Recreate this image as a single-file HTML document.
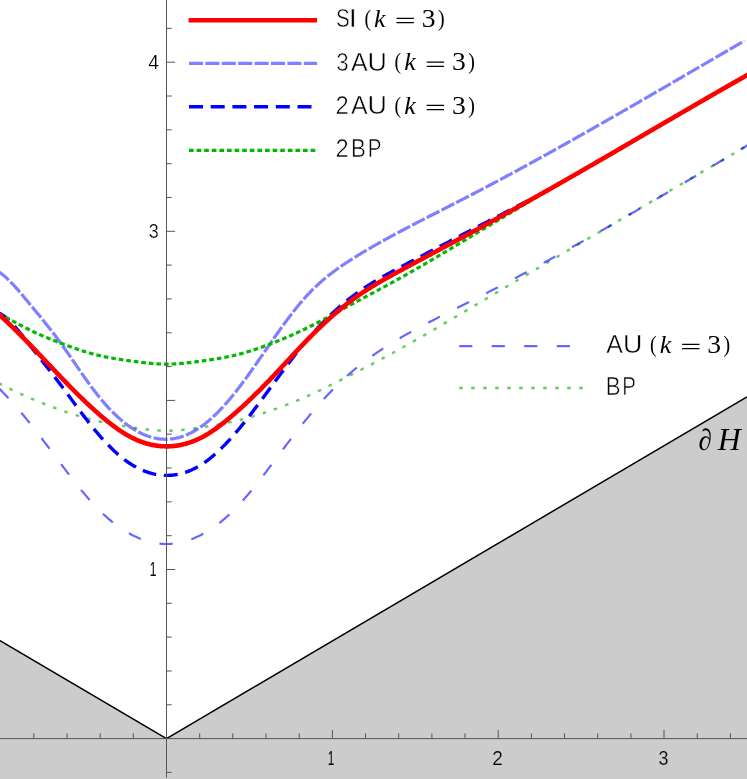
<!DOCTYPE html>
<html><head><meta charset="utf-8"><title>chart</title>
<style>
html,body{margin:0;padding:0;background:#fff;}
body{width:747px;height:779px;overflow:hidden;font-family:"Liberation Sans",sans-serif;}
svg{display:block;}
</style></head><body>
<svg width="747" height="779" viewBox="0 0 747 779">
<polygon points="0,640.6 166.5,738.6 747,396.9 747,779 0,779" fill="#cccccc"/>
<polyline points="0,640.6 166.5,738.6 747,396.9" fill="none" stroke="#000" stroke-width="1.5" stroke-linejoin="miter"/>
<path d="M-3.5,382.2 L-2.5,382.7 L-1.5,383.2 L-0.5,383.7 L0.5,384.2 L1.5,384.7 L2.5,385.2 L3.5,385.7 L4.5,386.2 L5.5,386.7 L6.5,387.2 L7.5,387.7 L8.5,388.1 L9.5,388.6 L10.5,389.1 L11.5,389.6 L12.5,390.1 L13.5,390.5 L14.5,391.0 L15.5,391.5 L16.5,392.0 L17.5,392.4 L18.5,392.9 L19.5,393.4 L20.5,393.8 L21.5,394.3 L22.5,394.7 L23.5,395.2 L24.5,395.6 L25.5,396.1 L26.5,396.5 L27.5,397.0 L28.5,397.4 L29.5,397.8 L30.5,398.3 L31.5,398.7 L32.5,399.1 L33.5,399.5 L34.5,400.0 L35.5,400.4 L36.5,400.8 L37.5,401.2 L38.5,401.6 L39.5,402.0 L40.5,402.4 L41.5,402.8 L42.5,403.2 L43.5,403.6 L44.5,404.0 L45.5,404.4 L46.5,404.8 L47.5,405.2 L48.5,405.6 L49.5,406.0 L50.5,406.3 L51.5,406.7 L52.5,407.1 L53.5,407.5 L54.5,407.8 L55.5,408.2 L56.5,408.6 L57.5,408.9 L58.5,409.3 L59.5,409.6 L60.5,410.0 L61.5,410.3 L62.5,410.7 L63.5,411.0 L64.5,411.4 L65.5,411.7 L66.5,412.1 L67.5,412.4 L68.5,412.7 L69.5,413.1 L70.5,413.4 L71.5,413.7 L72.5,414.0 L73.5,414.3 L74.5,414.7 L75.5,415.0 L76.5,415.3 L77.5,415.6 L78.5,415.9 L79.5,416.2 L80.5,416.5 L81.5,416.8 L82.5,417.1 L83.5,417.4 L84.5,417.7 L85.5,417.9 L86.5,418.2 L87.5,418.5 L88.5,418.8 L89.5,419.0 L90.5,419.3 L91.5,419.5 L92.5,419.8 L93.5,420.1 L94.5,420.3 L95.5,420.5 L96.5,420.8 L97.5,421.0 L98.5,421.3 L99.5,421.5 L100.5,421.7 L101.5,421.9 L102.5,422.1 L103.5,422.4 L104.5,422.6 L105.5,422.8 L106.5,423.0 L107.5,423.2 L108.5,423.4 L109.5,423.6 L110.5,423.8 L111.5,424.0 L112.5,424.1 L113.5,424.3 L114.5,424.5 L115.5,424.7 L116.5,424.9 L117.5,425.0 L118.5,425.2 L119.5,425.4 L120.5,425.6 L121.5,425.7 L122.5,425.9 L123.5,426.1 L124.5,426.2 L125.5,426.4 L126.5,426.5 L127.5,426.7 L128.5,426.9 L129.5,427.0 L130.5,427.2 L131.5,427.3 L132.5,427.5 L133.5,427.6 L134.5,427.8 L135.5,427.9 L136.5,428.1 L137.5,428.2 L138.5,428.4 L139.5,428.5 L140.5,428.6 L141.5,428.8 L142.5,428.9 L143.5,429.0 L144.5,429.2 L145.5,429.3 L146.5,429.4 L147.5,429.5 L148.5,429.6 L149.5,429.7 L150.5,429.9 L151.5,430.0 L152.5,430.0 L153.5,430.1 L154.5,430.2 L155.5,430.3 L156.5,430.4 L157.5,430.4 L158.5,430.5 L159.5,430.5 L160.5,430.6 L161.5,430.6 L162.5,430.7 L163.5,430.7 L164.5,430.7 L165.5,430.7 L166.5,430.7 L167.5,430.7 L168.5,430.7 L169.5,430.7 L170.5,430.7 L171.5,430.6 L172.5,430.6 L173.5,430.5 L174.5,430.5 L175.5,430.4 L176.5,430.4 L177.5,430.3 L178.5,430.2 L179.5,430.1 L180.5,430.0 L181.5,430.0 L182.5,429.9 L183.5,429.7 L184.5,429.6 L185.5,429.5 L186.5,429.4 L187.5,429.3 L188.5,429.2 L189.5,429.0 L190.5,428.9 L191.5,428.8 L192.5,428.6 L193.5,428.5 L194.5,428.4 L195.5,428.2 L196.5,428.1 L197.5,427.9 L198.5,427.8 L199.5,427.6 L200.5,427.5 L201.5,427.3 L202.5,427.2 L203.5,427.0 L204.5,426.9 L205.5,426.7 L206.5,426.5 L207.5,426.4 L208.5,426.2 L209.5,426.1 L210.5,425.9 L211.5,425.7 L212.5,425.6 L213.5,425.4 L214.5,425.2 L215.5,425.0 L216.5,424.9 L217.5,424.7 L218.5,424.5 L219.5,424.3 L220.5,424.1 L221.5,424.0 L222.5,423.8 L223.5,423.6 L224.5,423.4 L225.5,423.2 L226.5,423.0 L227.5,422.8 L228.5,422.6 L229.5,422.4 L230.5,422.1 L231.5,421.9 L232.5,421.7 L233.5,421.5 L234.5,421.3 L235.5,421.0 L236.5,420.8 L237.5,420.5 L238.5,420.3 L239.5,420.1 L240.5,419.8 L241.5,419.5 L242.5,419.3 L243.5,419.0 L244.5,418.8 L245.5,418.5 L246.5,418.2 L247.5,417.9 L248.5,417.7 L249.5,417.4 L250.5,417.1 L251.5,416.8 L252.5,416.5 L253.5,416.2 L254.5,415.9 L255.5,415.6 L256.5,415.3 L257.5,415.0 L258.5,414.7 L259.5,414.3 L260.5,414.0 L261.5,413.7 L262.5,413.4 L263.5,413.1 L264.5,412.7 L265.5,412.4 L266.5,412.1 L267.5,411.7 L268.5,411.4 L269.5,411.0 L270.5,410.7 L271.5,410.3 L272.5,410.0 L273.5,409.6 L274.5,409.3 L275.5,408.9 L276.5,408.6 L277.5,408.2 L278.5,407.8 L279.5,407.5 L280.5,407.1 L281.5,406.7 L282.5,406.3 L283.5,406.0 L284.5,405.6 L285.5,405.2 L286.5,404.8 L287.5,404.4 L288.5,404.0 L289.5,403.6 L290.5,403.2 L291.5,402.8 L292.5,402.4 L293.5,402.0 L294.5,401.6 L295.5,401.2 L296.5,400.8 L297.5,400.4 L298.5,400.0 L299.5,399.5 L300.5,399.1 L301.5,398.7 L302.5,398.3 L303.5,397.8 L304.5,397.4 L305.5,397.0 L306.5,396.5 L307.5,396.1 L308.5,395.6 L309.5,395.2 L310.5,394.7 L311.5,394.3 L312.5,393.8 L313.5,393.4 L314.5,392.9 L315.5,392.4 L316.5,392.0 L317.5,391.5 L318.5,391.0 L319.5,390.5 L320.5,390.1 L321.5,389.6 L322.5,389.1 L323.5,388.6 L324.5,388.1 L325.5,387.7 L326.5,387.2 L327.5,386.7 L328.5,386.2 L329.5,385.7 L330.5,385.2 L331.5,384.7 L332.5,384.2 L333.5,383.7 L334.5,383.2 L335.5,382.7 L336.5,382.2 L337.5,381.7 L338.5,381.2 L339.5,380.7 L340.5,380.2 L341.5,379.7 L342.5,379.2 L343.5,378.7 L344.5,378.2 L345.5,377.7 L346.5,377.2 L347.5,376.6 L348.5,376.1 L349.5,375.6 L350.5,375.1 L351.5,374.6 L352.5,374.1 L353.5,373.6 L354.5,373.1 L355.5,372.6 L356.5,372.0 L357.5,371.5 L358.5,371.0 L359.5,370.5 L360.5,370.0 L361.5,369.5 L362.5,369.0 L363.5,368.4 L364.5,367.9 L365.5,367.4 L366.5,366.9 L367.5,366.4 L368.5,365.8 L369.5,365.3 L370.5,364.8 L371.5,364.3 L372.5,363.8 L373.5,363.2 L374.5,362.7 L375.5,362.2 L376.5,361.7 L377.5,361.1 L378.5,360.6 L379.5,360.1 L380.5,359.5 L381.5,359.0 L382.5,358.5 L383.5,357.9 L384.5,357.4 L385.5,356.9 L386.5,356.3 L387.5,355.8 L388.5,355.2 L389.5,354.7 L390.5,354.2 L391.5,353.6 L392.5,353.1 L393.5,352.5 L394.5,352.0 L395.5,351.4 L396.5,350.9 L397.5,350.3 L398.5,349.8 L399.5,349.2 L400.5,348.7 L401.5,348.1 L402.5,347.6 L403.5,347.0 L404.5,346.5 L405.5,345.9 L406.5,345.3 L407.5,344.8 L408.5,344.2 L409.5,343.6 L410.5,343.1 L411.5,342.5 L412.5,342.0 L413.5,341.4 L414.5,340.8 L415.5,340.2 L416.5,339.7 L417.5,339.1 L418.5,338.5 L419.5,338.0 L420.5,337.4 L421.5,336.8 L422.5,336.2 L423.5,335.7 L424.5,335.1 L425.5,334.5 L426.5,333.9 L427.5,333.3 L428.5,332.8 L429.5,332.2 L430.5,331.6 L431.5,331.0 L432.5,330.4 L433.5,329.9 L434.5,329.3 L435.5,328.7 L436.5,328.1 L437.5,327.5 L438.5,326.9 L439.5,326.3 L440.5,325.8 L441.5,325.2 L442.5,324.6 L443.5,324.0 L444.5,323.4 L445.5,322.8 L446.5,322.2 L447.5,321.6 L448.5,321.0 L449.5,320.5 L450.5,319.9 L451.5,319.3 L452.5,318.7 L453.5,318.1 L454.5,317.5 L455.5,316.9 L456.5,316.3 L457.5,315.7 L458.5,315.1 L459.5,314.5 L460.5,313.9 L461.5,313.4 L462.5,312.8 L463.5,312.2 L464.5,311.6 L465.5,311.0 L466.5,310.4 L467.5,309.8 L468.5,309.2 L469.5,308.6 L470.5,308.0 L471.5,307.4 L472.5,306.8 L473.5,306.2 L474.5,305.7 L475.5,305.1 L476.5,304.5 L477.5,303.9 L478.5,303.3 L479.5,302.7 L480.5,302.1 L481.5,301.5 L482.5,300.9 L483.5,300.3 L484.5,299.7 L485.5,299.1 L486.5,298.6 L487.5,298.0 L488.5,297.4 L489.5,296.8 L490.5,296.2 L491.5,295.6 L492.5,295.0 L493.5,294.4 L494.5,293.8 L495.5,293.2 L496.5,292.6 L497.5,292.0 L498.5,291.5 L499.5,290.9 L500.5,290.3 L501.5,289.7 L502.5,289.1 L503.5,288.5 L504.5,287.9 L505.5,287.3 L506.5,286.7 L507.5,286.1 L508.5,285.5 L509.5,285.0 L510.5,284.4 L511.5,283.8 L512.5,283.2 L513.5,282.6 L514.5,282.0 L515.5,281.4 L516.5,280.8 L517.5,280.2 L518.5,279.6 L519.5,279.0 L520.5,278.5 L521.5,277.9 L522.5,277.3 L523.5,276.7 L524.5,276.1 L525.5,275.5 L526.5,274.9 L527.5,274.3 L528.5,273.7 L529.5,273.1 L530.5,272.6 L531.5,272.0 L532.5,271.4 L533.5,270.8 L534.5,270.2 L535.5,269.6 L536.5,269.0 L537.5,268.4 L538.5,267.8 L539.5,267.2 L540.5,266.7 L541.5,266.1 L542.5,265.5 L543.5,264.9 L544.5,264.3 L545.5,263.7 L546.5,263.1 L547.5,262.5 L548.5,261.9 L549.5,261.3 L550.5,260.8 L551.5,260.2 L552.5,259.6 L553.5,259.0 L554.5,258.4 L555.5,257.8 L556.5,257.2 L557.5,256.6 L558.5,256.0 L559.5,255.5 L560.5,254.9 L561.5,254.3 L562.5,253.7 L563.5,253.1 L564.5,252.5 L565.5,251.9 L566.5,251.3 L567.5,250.7 L568.5,250.2 L569.5,249.6 L570.5,249.0 L571.5,248.4 L572.5,247.8 L573.5,247.2 L574.5,246.6 L575.5,246.0 L576.5,245.5 L577.5,244.9 L578.5,244.3 L579.5,243.7 L580.5,243.1 L581.5,242.5 L582.5,241.9 L583.5,241.3 L584.5,240.8 L585.5,240.2 L586.5,239.6 L587.5,239.0 L588.5,238.4 L589.5,237.8 L590.5,237.2 L591.5,236.6 L592.5,236.0 L593.5,235.5 L594.5,234.9 L595.5,234.3 L596.5,233.7 L597.5,233.1 L598.5,232.5 L599.5,231.9 L600.5,231.4 L601.5,230.8 L602.5,230.2 L603.5,229.6 L604.5,229.0 L605.5,228.4 L606.5,227.8 L607.5,227.2 L608.5,226.7 L609.5,226.1 L610.5,225.5 L611.5,224.9 L612.5,224.3 L613.5,223.7 L614.5,223.1 L615.5,222.6 L616.5,222.0 L617.5,221.4 L618.5,220.8 L619.5,220.2 L620.5,219.6 L621.5,219.0 L622.5,218.4 L623.5,217.9 L624.5,217.3 L625.5,216.7 L626.5,216.1 L627.5,215.5 L628.5,214.9 L629.5,214.3 L630.5,213.8 L631.5,213.2 L632.5,212.6 L633.5,212.0 L634.5,211.4 L635.5,210.8 L636.5,210.3 L637.5,209.7 L638.5,209.1 L639.5,208.5 L640.5,207.9 L641.5,207.3 L642.5,206.7 L643.5,206.2 L644.5,205.6 L645.5,205.0 L646.5,204.4 L647.5,203.8 L648.5,203.2 L649.5,202.6 L650.5,202.1 L651.5,201.5 L652.5,200.9 L653.5,200.3 L654.5,199.7 L655.5,199.1 L656.5,198.6 L657.5,198.0 L658.5,197.4 L659.5,196.8 L660.5,196.2 L661.5,195.6 L662.5,195.1 L663.5,194.5 L664.5,193.9 L665.5,193.3 L666.5,192.7 L667.5,192.1 L668.5,191.5 L669.5,191.0 L670.5,190.4 L671.5,189.8 L672.5,189.2 L673.5,188.6 L674.5,188.0 L675.5,187.5 L676.5,186.9 L677.5,186.3 L678.5,185.7 L679.5,185.1 L680.5,184.5 L681.5,184.0 L682.5,183.4 L683.5,182.8 L684.5,182.2 L685.5,181.6 L686.5,181.0 L687.5,180.5 L688.5,179.9 L689.5,179.3 L690.5,178.7 L691.5,178.1 L692.5,177.6 L693.5,177.0 L694.5,176.4 L695.5,175.8 L696.5,175.2 L697.5,174.6 L698.5,174.1 L699.5,173.5 L700.5,172.9 L701.5,172.3 L702.5,171.7 L703.5,171.2 L704.5,170.6 L705.5,170.0 L706.5,169.4 L707.5,168.8 L708.5,168.2 L709.5,167.7 L710.5,167.1 L711.5,166.5 L712.5,165.9 L713.5,165.3 L714.5,164.8 L715.5,164.2 L716.5,163.6 L717.5,163.0 L718.5,162.4 L719.5,161.8 L720.5,161.3 L721.5,160.7 L722.5,160.1 L723.5,159.5 L724.5,158.9 L725.5,158.4 L726.5,157.8 L727.5,157.2 L728.5,156.6 L729.5,156.0 L730.5,155.5 L731.5,154.9 L732.5,154.3 L733.5,153.7 L734.5,153.1 L735.5,152.6 L736.5,152.0 L737.5,151.4 L738.5,150.8 L739.5,150.2 L740.5,149.7 L741.5,149.1 L742.5,148.5 L743.5,147.9 L744.5,147.3 L745.5,146.8 L746.5,146.2 L747.5,145.6 L748.5,145.0 L749.5,144.4 L750.5,143.9 L751.5,143.3 L752.5,142.7 L753.5,142.1 L754.5,141.6 L755.5,141.0" fill="none" stroke="rgba(0,170,0,0.6)" stroke-width="2.5" stroke-dasharray="3.573 8.338" stroke-dashoffset="9.430"/>
<path d="M-3.5,385.9 L-2.5,386.9 L-1.5,387.9 L-0.5,388.9 L0.5,389.9 L1.5,390.9 L2.5,391.9 L3.5,393.0 L4.5,394.0 L5.5,395.1 L6.5,396.1 L7.5,397.2 L8.5,398.3 L9.5,399.4 L10.5,400.5 L11.5,401.6 L12.5,402.7 L13.5,403.8 L14.5,404.9 L15.5,406.1 L16.5,407.2 L17.5,408.4 L18.5,409.5 L19.5,410.7 L20.5,411.9 L21.5,413.1 L22.5,414.2 L23.5,415.4 L24.5,416.7 L25.5,417.9 L26.5,419.1 L27.5,420.3 L28.5,421.5 L29.5,422.8 L30.5,424.0 L31.5,425.3 L32.5,426.6 L33.5,427.8 L34.5,429.1 L35.5,430.4 L36.5,431.7 L37.5,432.9 L38.5,434.2 L39.5,435.5 L40.5,436.8 L41.5,438.1 L42.5,439.5 L43.5,440.8 L44.5,442.1 L45.5,443.4 L46.5,444.7 L47.5,446.0 L48.5,447.4 L49.5,448.7 L50.5,450.0 L51.5,451.3 L52.5,452.7 L53.5,454.0 L54.5,455.3 L55.5,456.7 L56.5,458.0 L57.5,459.3 L58.5,460.7 L59.5,462.0 L60.5,463.3 L61.5,464.7 L62.5,466.0 L63.5,467.3 L64.5,468.6 L65.5,469.9 L66.5,471.3 L67.5,472.6 L68.5,473.9 L69.5,475.2 L70.5,476.5 L71.5,477.8 L72.5,479.1 L73.5,480.3 L74.5,481.6 L75.5,482.9 L76.5,484.2 L77.5,485.4 L78.5,486.7 L79.5,487.9 L80.5,489.1 L81.5,490.4 L82.5,491.6 L83.5,492.8 L84.5,494.0 L85.5,495.1 L86.5,496.3 L87.5,497.5 L88.5,498.6 L89.5,499.8 L90.5,500.9 L91.5,502.0 L92.5,503.1 L93.5,504.2 L94.5,505.3 L95.5,506.3 L96.5,507.4 L97.5,508.4 L98.5,509.4 L99.5,510.4 L100.5,511.4 L101.5,512.4 L102.5,513.3 L103.5,514.3 L104.5,515.2 L105.5,516.1 L106.5,517.0 L107.5,517.9 L108.5,518.8 L109.5,519.6 L110.5,520.4 L111.5,521.3 L112.5,522.1 L113.5,522.9 L114.5,523.6 L115.5,524.4 L116.5,525.2 L117.5,525.9 L118.5,526.6 L119.5,527.3 L120.5,528.0 L121.5,528.7 L122.5,529.3 L123.5,530.0 L124.5,530.6 L125.5,531.2 L126.5,531.9 L127.5,532.4 L128.5,533.0 L129.5,533.6 L130.5,534.1 L131.5,534.7 L132.5,535.2 L133.5,535.7 L134.5,536.2 L135.5,536.6 L136.5,537.1 L137.5,537.6 L138.5,538.0 L139.5,538.4 L140.5,538.8 L141.5,539.2 L142.5,539.6 L143.5,539.9 L144.5,540.3 L145.5,540.6 L146.5,540.9 L147.5,541.2 L148.5,541.5 L149.5,541.8 L150.5,542.0 L151.5,542.3 L152.5,542.5 L153.5,542.7 L154.5,542.9 L155.5,543.1 L156.5,543.2 L157.5,543.4 L158.5,543.5 L159.5,543.6 L160.5,543.7 L161.5,543.8 L162.5,543.9 L163.5,543.9 L164.5,544.0 L165.5,544.0 L166.5,544.0 L167.5,544.0 L168.5,544.0 L169.5,543.9 L170.5,543.9 L171.5,543.8 L172.5,543.7 L173.5,543.6 L174.5,543.5 L175.5,543.4 L176.5,543.2 L177.5,543.1 L178.5,542.9 L179.5,542.7 L180.5,542.5 L181.5,542.3 L182.5,542.0 L183.5,541.8 L184.5,541.5 L185.5,541.2 L186.5,540.9 L187.5,540.6 L188.5,540.3 L189.5,539.9 L190.5,539.6 L191.5,539.2 L192.5,538.8 L193.5,538.4 L194.5,538.0 L195.5,537.6 L196.5,537.1 L197.5,536.6 L198.5,536.2 L199.5,535.7 L200.5,535.2 L201.5,534.7 L202.5,534.1 L203.5,533.6 L204.5,533.0 L205.5,532.4 L206.5,531.9 L207.5,531.2 L208.5,530.6 L209.5,530.0 L210.5,529.3 L211.5,528.7 L212.5,528.0 L213.5,527.3 L214.5,526.6 L215.5,525.9 L216.5,525.2 L217.5,524.4 L218.5,523.6 L219.5,522.9 L220.5,522.1 L221.5,521.3 L222.5,520.4 L223.5,519.6 L224.5,518.8 L225.5,517.9 L226.5,517.0 L227.5,516.1 L228.5,515.2 L229.5,514.3 L230.5,513.3 L231.5,512.4 L232.5,511.4 L233.5,510.4 L234.5,509.4 L235.5,508.4 L236.5,507.4 L237.5,506.3 L238.5,505.3 L239.5,504.2 L240.5,503.1 L241.5,502.0 L242.5,500.9 L243.5,499.8 L244.5,498.6 L245.5,497.5 L246.5,496.3 L247.5,495.1 L248.5,494.0 L249.5,492.8 L250.5,491.6 L251.5,490.4 L252.5,489.1 L253.5,487.9 L254.5,486.7 L255.5,485.4 L256.5,484.2 L257.5,482.9 L258.5,481.6 L259.5,480.3 L260.5,479.1 L261.5,477.8 L262.5,476.5 L263.5,475.2 L264.5,473.9 L265.5,472.6 L266.5,471.3 L267.5,469.9 L268.5,468.6 L269.5,467.3 L270.5,466.0 L271.5,464.7 L272.5,463.3 L273.5,462.0 L274.5,460.7 L275.5,459.3 L276.5,458.0 L277.5,456.7 L278.5,455.3 L279.5,454.0 L280.5,452.7 L281.5,451.3 L282.5,450.0 L283.5,448.7 L284.5,447.4 L285.5,446.0 L286.5,444.7 L287.5,443.4 L288.5,442.1 L289.5,440.8 L290.5,439.5 L291.5,438.1 L292.5,436.8 L293.5,435.5 L294.5,434.2 L295.5,432.9 L296.5,431.7 L297.5,430.4 L298.5,429.1 L299.5,427.8 L300.5,426.6 L301.5,425.3 L302.5,424.0 L303.5,422.8 L304.5,421.5 L305.5,420.3 L306.5,419.1 L307.5,417.9 L308.5,416.7 L309.5,415.4 L310.5,414.2 L311.5,413.1 L312.5,411.9 L313.5,410.7 L314.5,409.5 L315.5,408.4 L316.5,407.2 L317.5,406.1 L318.5,404.9 L319.5,403.8 L320.5,402.7 L321.5,401.6 L322.5,400.5 L323.5,399.4 L324.5,398.3 L325.5,397.2 L326.5,396.1 L327.5,395.1 L328.5,394.0 L329.5,393.0 L330.5,391.9 L331.5,390.9 L332.5,389.9 L333.5,388.9 L334.5,387.9 L335.5,386.9 L336.5,385.9 L337.5,384.9 L338.5,383.9 L339.5,382.9 L340.5,382.0 L341.5,381.0 L342.5,380.1 L343.5,379.2 L344.5,378.3 L345.5,377.3 L346.5,376.4 L347.5,375.5 L348.5,374.7 L349.5,373.8 L350.5,372.9 L351.5,372.0 L352.5,371.2 L353.5,370.3 L354.5,369.5 L355.5,368.7 L356.5,367.9 L357.5,367.1 L358.5,366.2 L359.5,365.4 L360.5,364.7 L361.5,363.9 L362.5,363.1 L363.5,362.3 L364.5,361.6 L365.5,360.8 L366.5,360.1 L367.5,359.3 L368.5,358.6 L369.5,357.9 L370.5,357.1 L371.5,356.4 L372.5,355.7 L373.5,355.0 L374.5,354.3 L375.5,353.6 L376.5,352.9 L377.5,352.2 L378.5,351.6 L379.5,350.9 L380.5,350.2 L381.5,349.6 L382.5,348.9 L383.5,348.2 L384.5,347.6 L385.5,347.0 L386.5,346.3 L387.5,345.7 L388.5,345.1 L389.5,344.4 L390.5,343.8 L391.5,343.2 L392.5,342.6 L393.5,342.0 L394.5,341.4 L395.5,340.8 L396.5,340.2 L397.5,339.6 L398.5,339.0 L399.5,338.4 L400.5,337.8 L401.5,337.2 L402.5,336.6 L403.5,336.1 L404.5,335.5 L405.5,334.9 L406.5,334.4 L407.5,333.8 L408.5,333.2 L409.5,332.7 L410.5,332.1 L411.5,331.6 L412.5,331.0 L413.5,330.5 L414.5,329.9 L415.5,329.4 L416.5,328.8 L417.5,328.3 L418.5,327.7 L419.5,327.2 L420.5,326.7 L421.5,326.1 L422.5,325.6 L423.5,325.1 L424.5,324.6 L425.5,324.0 L426.5,323.5 L427.5,323.0 L428.5,322.5 L429.5,322.0 L430.5,321.4 L431.5,320.9 L432.5,320.4 L433.5,319.9 L434.5,319.4 L435.5,318.9 L436.5,318.4 L437.5,317.9 L438.5,317.3 L439.5,316.8 L440.5,316.3 L441.5,315.8 L442.5,315.3 L443.5,314.8 L444.5,314.3 L445.5,313.8 L446.5,313.3 L447.5,312.8 L448.5,312.3 L449.5,311.8 L450.5,311.3 L451.5,310.8 L452.5,310.3 L453.5,309.8 L454.5,309.3 L455.5,308.8 L456.5,308.3 L457.5,307.8 L458.5,307.3 L459.5,306.8 L460.5,306.3 L461.5,305.8 L462.5,305.3 L463.5,304.8 L464.5,304.3 L465.5,303.8 L466.5,303.3 L467.5,302.8 L468.5,302.3 L469.5,301.8 L470.5,301.3 L471.5,300.8 L472.5,300.3 L473.5,299.8 L474.5,299.3 L475.5,298.8 L476.5,298.3 L477.5,297.8 L478.5,297.2 L479.5,296.7 L480.5,296.2 L481.5,295.7 L482.5,295.2 L483.5,294.7 L484.5,294.2 L485.5,293.7 L486.5,293.2 L487.5,292.6 L488.5,292.1 L489.5,291.6 L490.5,291.1 L491.5,290.6 L492.5,290.1 L493.5,289.5 L494.5,289.0 L495.5,288.5 L496.5,288.0 L497.5,287.5 L498.5,286.9 L499.5,286.4 L500.5,285.9 L501.5,285.4 L502.5,284.8 L503.5,284.3 L504.5,283.8 L505.5,283.3 L506.5,282.7 L507.5,282.2 L508.5,281.7 L509.5,281.2 L510.5,280.6 L511.5,280.1 L512.5,279.6 L513.5,279.1 L514.5,278.5 L515.5,278.0 L516.5,277.5 L517.5,276.9 L518.5,276.4 L519.5,275.9 L520.5,275.3 L521.5,274.8 L522.5,274.3 L523.5,273.7 L524.5,273.2 L525.5,272.7 L526.5,272.1 L527.5,271.6 L528.5,271.1 L529.5,270.5 L530.5,270.0 L531.5,269.4 L532.5,268.9 L533.5,268.4 L534.5,267.8 L535.5,267.3 L536.5,266.7 L537.5,266.2 L538.5,265.7 L539.5,265.1 L540.5,264.6 L541.5,264.0 L542.5,263.5 L543.5,262.9 L544.5,262.4 L545.5,261.8 L546.5,261.3 L547.5,260.8 L548.5,260.2 L549.5,259.7 L550.5,259.1 L551.5,258.6 L552.5,258.0 L553.5,257.5 L554.5,256.9 L555.5,256.4 L556.5,255.8 L557.5,255.3 L558.5,254.7 L559.5,254.2 L560.5,253.6 L561.5,253.1 L562.5,252.5 L563.5,252.0 L564.5,251.4 L565.5,250.9 L566.5,250.3 L567.5,249.7 L568.5,249.2 L569.5,248.6 L570.5,248.1 L571.5,247.5 L572.5,247.0 L573.5,246.4 L574.5,245.8 L575.5,245.3 L576.5,244.7 L577.5,244.2 L578.5,243.6 L579.5,243.1 L580.5,242.5 L581.5,241.9 L582.5,241.4 L583.5,240.8 L584.5,240.2 L585.5,239.7 L586.5,239.1 L587.5,238.6 L588.5,238.0 L589.5,237.4 L590.5,236.9 L591.5,236.3 L592.5,235.7 L593.5,235.2 L594.5,234.6 L595.5,234.0 L596.5,233.5 L597.5,232.9 L598.5,232.3 L599.5,231.8 L600.5,231.2 L601.5,230.6 L602.5,230.1 L603.5,229.5 L604.5,228.9 L605.5,228.4 L606.5,227.8 L607.5,227.2 L608.5,226.7 L609.5,226.1 L610.5,225.5 L611.5,225.0 L612.5,224.4 L613.5,223.8 L614.5,223.2 L615.5,222.7 L616.5,222.1 L617.5,221.5 L618.5,220.9 L619.5,220.4 L620.5,219.8 L621.5,219.2 L622.5,218.7 L623.5,218.1 L624.5,217.5 L625.5,216.9 L626.5,216.4 L627.5,215.8 L628.5,215.2 L629.5,214.6 L630.5,214.0 L631.5,213.5 L632.5,212.9 L633.5,212.3 L634.5,211.7 L635.5,211.2 L636.5,210.6 L637.5,210.0 L638.5,209.4 L639.5,208.8 L640.5,208.3 L641.5,207.7 L642.5,207.1 L643.5,206.5 L644.5,205.9 L645.5,205.4 L646.5,204.8 L647.5,204.2 L648.5,203.6 L649.5,203.0 L650.5,202.5 L651.5,201.9 L652.5,201.3 L653.5,200.7 L654.5,200.1 L655.5,199.5 L656.5,199.0 L657.5,198.4 L658.5,197.8 L659.5,197.2 L660.5,196.6 L661.5,196.0 L662.5,195.5 L663.5,194.9 L664.5,194.3 L665.5,193.7 L666.5,193.1 L667.5,192.5 L668.5,192.0 L669.5,191.4 L670.5,190.8 L671.5,190.2 L672.5,189.6 L673.5,189.0 L674.5,188.4 L675.5,187.8 L676.5,187.3 L677.5,186.7 L678.5,186.1 L679.5,185.5 L680.5,184.9 L681.5,184.3 L682.5,183.7 L683.5,183.1 L684.5,182.6 L685.5,182.0 L686.5,181.4 L687.5,180.8 L688.5,180.2 L689.5,179.6 L690.5,179.0 L691.5,178.4 L692.5,177.8 L693.5,177.3 L694.5,176.7 L695.5,176.1 L696.5,175.5 L697.5,174.9 L698.5,174.3 L699.5,173.7 L700.5,173.1 L701.5,172.5 L702.5,171.9 L703.5,171.4 L704.5,170.8 L705.5,170.2 L706.5,169.6 L707.5,169.0 L708.5,168.4 L709.5,167.8 L710.5,167.2 L711.5,166.6 L712.5,166.0 L713.5,165.4 L714.5,164.8 L715.5,164.3 L716.5,163.7 L717.5,163.1 L718.5,162.5 L719.5,161.9 L720.5,161.3 L721.5,160.7 L722.5,160.1 L723.5,159.5 L724.5,158.9 L725.5,158.3 L726.5,157.7 L727.5,157.1 L728.5,156.5 L729.5,156.0 L730.5,155.4 L731.5,154.8 L732.5,154.2 L733.5,153.6 L734.5,153.0 L735.5,152.4 L736.5,151.8 L737.5,151.2 L738.5,150.6 L739.5,150.0 L740.5,149.4 L741.5,148.8 L742.5,148.2 L743.5,147.6 L744.5,147.0 L745.5,146.5 L746.5,145.9 L747.5,145.3 L748.5,144.7 L749.5,144.1 L750.5,143.5 L751.5,142.9 L752.5,142.3 L753.5,141.7 L754.5,141.1 L755.5,140.5" fill="none" stroke="rgba(0,0,255,0.6)" stroke-width="2.2" stroke-dasharray="13.204 19.306" stroke-dashoffset="28.432"/>
<path d="M-3.5,270.5 L-2.5,271.1 L-1.5,271.7 L-0.5,272.3 L0.5,273.0 L1.5,273.7 L2.5,274.5 L3.5,275.3 L4.5,276.1 L5.5,277.0 L6.5,277.9 L7.5,278.8 L8.5,279.8 L9.5,280.8 L10.5,281.8 L11.5,282.8 L12.5,283.9 L13.5,284.9 L14.5,286.0 L15.5,287.2 L16.5,288.3 L17.5,289.4 L18.5,290.6 L19.5,291.8 L20.5,292.9 L21.5,294.1 L22.5,295.3 L23.5,296.5 L24.5,297.7 L25.5,298.9 L26.5,300.1 L27.5,301.3 L28.5,302.5 L29.5,303.7 L30.5,304.9 L31.5,306.1 L32.5,307.3 L33.5,308.6 L34.5,309.8 L35.5,311.0 L36.5,312.2 L37.5,313.4 L38.5,314.6 L39.5,315.8 L40.5,317.1 L41.5,318.3 L42.5,319.5 L43.5,320.8 L44.5,322.0 L45.5,323.2 L46.5,324.5 L47.5,325.8 L48.5,327.0 L49.5,328.3 L50.5,329.6 L51.5,330.9 L52.5,332.2 L53.5,333.5 L54.5,334.8 L55.5,336.1 L56.5,337.4 L57.5,338.7 L58.5,340.1 L59.5,341.4 L60.5,342.8 L61.5,344.2 L62.5,345.6 L63.5,347.0 L64.5,348.4 L65.5,349.8 L66.5,351.2 L67.5,352.6 L68.5,354.1 L69.5,355.5 L70.5,357.0 L71.5,358.4 L72.5,359.9 L73.5,361.3 L74.5,362.8 L75.5,364.2 L76.5,365.7 L77.5,367.2 L78.5,368.6 L79.5,370.1 L80.5,371.5 L81.5,373.0 L82.5,374.4 L83.5,375.8 L84.5,377.3 L85.5,378.7 L86.5,380.1 L87.5,381.5 L88.5,382.9 L89.5,384.3 L90.5,385.7 L91.5,387.0 L92.5,388.4 L93.5,389.7 L94.5,391.0 L95.5,392.3 L96.5,393.6 L97.5,394.9 L98.5,396.1 L99.5,397.4 L100.5,398.6 L101.5,399.8 L102.5,401.0 L103.5,402.2 L104.5,403.3 L105.5,404.4 L106.5,405.6 L107.5,406.7 L108.5,407.8 L109.5,408.8 L110.5,409.9 L111.5,410.9 L112.5,411.9 L113.5,412.9 L114.5,413.9 L115.5,414.8 L116.5,415.8 L117.5,416.7 L118.5,417.6 L119.5,418.5 L120.5,419.4 L121.5,420.2 L122.5,421.1 L123.5,421.9 L124.5,422.7 L125.5,423.5 L126.5,424.2 L127.5,425.0 L128.5,425.7 L129.5,426.4 L130.5,427.1 L131.5,427.8 L132.5,428.4 L133.5,429.1 L134.5,429.7 L135.5,430.3 L136.5,430.9 L137.5,431.4 L138.5,432.0 L139.5,432.5 L140.5,433.0 L141.5,433.5 L142.5,433.9 L143.5,434.4 L144.5,434.8 L145.5,435.2 L146.5,435.6 L147.5,436.0 L148.5,436.3 L149.5,436.7 L150.5,437.0 L151.5,437.3 L152.5,437.5 L153.5,437.8 L154.5,438.0 L155.5,438.2 L156.5,438.4 L157.5,438.6 L158.5,438.8 L159.5,438.9 L160.5,439.0 L161.5,439.1 L162.5,439.2 L163.5,439.2 L164.5,439.3 L165.5,439.3 L166.5,439.3 L167.5,439.3 L168.5,439.2 L169.5,439.1 L170.5,439.0 L171.5,438.9 L172.5,438.8 L173.5,438.7 L174.5,438.5 L175.5,438.3 L176.5,438.1 L177.5,437.9 L178.5,437.6 L179.5,437.4 L180.5,437.1 L181.5,436.8 L182.5,436.4 L183.5,436.1 L184.5,435.7 L185.5,435.3 L186.5,434.9 L187.5,434.5 L188.5,434.0 L189.5,433.6 L190.5,433.1 L191.5,432.6 L192.5,432.0 L193.5,431.5 L194.5,430.9 L195.5,430.3 L196.5,429.7 L197.5,429.1 L198.5,428.4 L199.5,427.8 L200.5,427.1 L201.5,426.4 L202.5,425.7 L203.5,424.9 L204.5,424.2 L205.5,423.4 L206.5,422.6 L207.5,421.7 L208.5,420.9 L209.5,420.1 L210.5,419.2 L211.5,418.3 L212.5,417.4 L213.5,416.4 L214.5,415.5 L215.5,414.5 L216.5,413.6 L217.5,412.6 L218.5,411.6 L219.5,410.5 L220.5,409.5 L221.5,408.4 L222.5,407.4 L223.5,406.3 L224.5,405.2 L225.5,404.0 L226.5,402.9 L227.5,401.8 L228.5,400.6 L229.5,399.4 L230.5,398.2 L231.5,397.0 L232.5,395.8 L233.5,394.6 L234.5,393.3 L235.5,392.1 L236.5,390.8 L237.5,389.5 L238.5,388.2 L239.5,386.9 L240.5,385.6 L241.5,384.3 L242.5,382.9 L243.5,381.6 L244.5,380.2 L245.5,378.9 L246.5,377.5 L247.5,376.1 L248.5,374.7 L249.5,373.3 L250.5,371.9 L251.5,370.5 L252.5,369.1 L253.5,367.7 L254.5,366.3 L255.5,364.8 L256.5,363.4 L257.5,362.0 L258.5,360.5 L259.5,359.1 L260.5,357.7 L261.5,356.2 L262.5,354.8 L263.5,353.3 L264.5,351.9 L265.5,350.4 L266.5,349.0 L267.5,347.5 L268.5,346.1 L269.5,344.6 L270.5,343.2 L271.5,341.7 L272.5,340.3 L273.5,338.9 L274.5,337.4 L275.5,336.0 L276.5,334.6 L277.5,333.2 L278.5,331.8 L279.5,330.3 L280.5,328.9 L281.5,327.6 L282.5,326.2 L283.5,324.8 L284.5,323.4 L285.5,322.1 L286.5,320.7 L287.5,319.4 L288.5,318.0 L289.5,316.7 L290.5,315.4 L291.5,314.1 L292.5,312.8 L293.5,311.5 L294.5,310.2 L295.5,309.0 L296.5,307.7 L297.5,306.5 L298.5,305.2 L299.5,304.0 L300.5,302.8 L301.5,301.7 L302.5,300.5 L303.5,299.4 L304.5,298.2 L305.5,297.1 L306.5,296.0 L307.5,294.9 L308.5,293.9 L309.5,292.8 L310.5,291.8 L311.5,290.7 L312.5,289.7 L313.5,288.8 L314.5,287.8 L315.5,286.8 L316.5,285.9 L317.5,284.9 L318.5,284.0 L319.5,283.1 L320.5,282.2 L321.5,281.4 L322.5,280.5 L323.5,279.6 L324.5,278.8 L325.5,278.0 L326.5,277.1 L327.5,276.3 L328.5,275.5 L329.5,274.8 L330.5,274.0 L331.5,273.2 L332.5,272.4 L333.5,271.7 L334.5,271.0 L335.5,270.2 L336.5,269.5 L337.5,268.8 L338.5,268.1 L339.5,267.4 L340.5,266.7 L341.5,266.0 L342.5,265.3 L343.5,264.6 L344.5,264.0 L345.5,263.3 L346.5,262.6 L347.5,262.0 L348.5,261.3 L349.5,260.7 L350.5,260.1 L351.5,259.4 L352.5,258.8 L353.5,258.1 L354.5,257.5 L355.5,256.9 L356.5,256.3 L357.5,255.7 L358.5,255.0 L359.5,254.4 L360.5,253.8 L361.5,253.2 L362.5,252.6 L363.5,252.0 L364.5,251.4 L365.5,250.8 L366.5,250.2 L367.5,249.6 L368.5,249.0 L369.5,248.5 L370.5,247.9 L371.5,247.3 L372.5,246.7 L373.5,246.1 L374.5,245.6 L375.5,245.0 L376.5,244.4 L377.5,243.9 L378.5,243.3 L379.5,242.7 L380.5,242.2 L381.5,241.6 L382.5,241.1 L383.5,240.5 L384.5,240.0 L385.5,239.4 L386.5,238.9 L387.5,238.3 L388.5,237.8 L389.5,237.2 L390.5,236.7 L391.5,236.1 L392.5,235.6 L393.5,235.1 L394.5,234.5 L395.5,234.0 L396.5,233.4 L397.5,232.9 L398.5,232.4 L399.5,231.9 L400.5,231.3 L401.5,230.8 L402.5,230.3 L403.5,229.7 L404.5,229.2 L405.5,228.7 L406.5,228.2 L407.5,227.6 L408.5,227.1 L409.5,226.6 L410.5,226.1 L411.5,225.5 L412.5,225.0 L413.5,224.5 L414.5,224.0 L415.5,223.5 L416.5,222.9 L417.5,222.4 L418.5,221.9 L419.5,221.4 L420.5,220.9 L421.5,220.4 L422.5,219.9 L423.5,219.3 L424.5,218.8 L425.5,218.3 L426.5,217.8 L427.5,217.3 L428.5,216.8 L429.5,216.3 L430.5,215.7 L431.5,215.2 L432.5,214.7 L433.5,214.2 L434.5,213.7 L435.5,213.2 L436.5,212.7 L437.5,212.2 L438.5,211.7 L439.5,211.2 L440.5,210.6 L441.5,210.1 L442.5,209.6 L443.5,209.1 L444.5,208.6 L445.5,208.1 L446.5,207.6 L447.5,207.1 L448.5,206.6 L449.5,206.1 L450.5,205.5 L451.5,205.0 L452.5,204.5 L453.5,204.0 L454.5,203.5 L455.5,203.0 L456.5,202.5 L457.5,202.0 L458.5,201.4 L459.5,200.9 L460.5,200.4 L461.5,199.9 L462.5,199.4 L463.5,198.9 L464.5,198.4 L465.5,197.8 L466.5,197.3 L467.5,196.8 L468.5,196.3 L469.5,195.8 L470.5,195.3 L471.5,194.7 L472.5,194.2 L473.5,193.7 L474.5,193.2 L475.5,192.7 L476.5,192.1 L477.5,191.6 L478.5,191.1 L479.5,190.6 L480.5,190.0 L481.5,189.5 L482.5,189.0 L483.5,188.5 L484.5,187.9 L485.5,187.4 L486.5,186.9 L487.5,186.4 L488.5,185.8 L489.5,185.3 L490.5,184.8 L491.5,184.2 L492.5,183.7 L493.5,183.2 L494.5,182.7 L495.5,182.1 L496.5,181.6 L497.5,181.1 L498.5,180.5 L499.5,180.0 L500.5,179.5 L501.5,178.9 L502.5,178.4 L503.5,177.9 L504.5,177.3 L505.5,176.8 L506.5,176.2 L507.5,175.7 L508.5,175.2 L509.5,174.6 L510.5,174.1 L511.5,173.6 L512.5,173.0 L513.5,172.5 L514.5,171.9 L515.5,171.4 L516.5,170.9 L517.5,170.3 L518.5,169.8 L519.5,169.2 L520.5,168.7 L521.5,168.1 L522.5,167.6 L523.5,167.1 L524.5,166.5 L525.5,166.0 L526.5,165.4 L527.5,164.9 L528.5,164.3 L529.5,163.8 L530.5,163.2 L531.5,162.7 L532.5,162.1 L533.5,161.6 L534.5,161.0 L535.5,160.5 L536.5,159.9 L537.5,159.4 L538.5,158.8 L539.5,158.3 L540.5,157.7 L541.5,157.2 L542.5,156.6 L543.5,156.1 L544.5,155.5 L545.5,155.0 L546.5,154.4 L547.5,153.9 L548.5,153.3 L549.5,152.8 L550.5,152.2 L551.5,151.7 L552.5,151.1 L553.5,150.5 L554.5,150.0 L555.5,149.4 L556.5,148.9 L557.5,148.3 L558.5,147.8 L559.5,147.2 L560.5,146.6 L561.5,146.1 L562.5,145.5 L563.5,145.0 L564.5,144.4 L565.5,143.8 L566.5,143.3 L567.5,142.7 L568.5,142.2 L569.5,141.6 L570.5,141.0 L571.5,140.5 L572.5,139.9 L573.5,139.4 L574.5,138.8 L575.5,138.2 L576.5,137.7 L577.5,137.1 L578.5,136.5 L579.5,136.0 L580.5,135.4 L581.5,134.8 L582.5,134.3 L583.5,133.7 L584.5,133.2 L585.5,132.6 L586.5,132.0 L587.5,131.5 L588.5,130.9 L589.5,130.3 L590.5,129.8 L591.5,129.2 L592.5,128.6 L593.5,128.1 L594.5,127.5 L595.5,126.9 L596.5,126.3 L597.5,125.8 L598.5,125.2 L599.5,124.6 L600.5,124.1 L601.5,123.5 L602.5,122.9 L603.5,122.4 L604.5,121.8 L605.5,121.2 L606.5,120.7 L607.5,120.1 L608.5,119.5 L609.5,118.9 L610.5,118.4 L611.5,117.8 L612.5,117.2 L613.5,116.6 L614.5,116.1 L615.5,115.5 L616.5,114.9 L617.5,114.4 L618.5,113.8 L619.5,113.2 L620.5,112.6 L621.5,112.1 L622.5,111.5 L623.5,110.9 L624.5,110.3 L625.5,109.8 L626.5,109.2 L627.5,108.6 L628.5,108.0 L629.5,107.5 L630.5,106.9 L631.5,106.3 L632.5,105.7 L633.5,105.2 L634.5,104.6 L635.5,104.0 L636.5,103.4 L637.5,102.9 L638.5,102.3 L639.5,101.7 L640.5,101.1 L641.5,100.5 L642.5,100.0 L643.5,99.4 L644.5,98.8 L645.5,98.2 L646.5,97.7 L647.5,97.1 L648.5,96.5 L649.5,95.9 L650.5,95.3 L651.5,94.8 L652.5,94.2 L653.5,93.6 L654.5,93.0 L655.5,92.5 L656.5,91.9 L657.5,91.3 L658.5,90.7 L659.5,90.1 L660.5,89.6 L661.5,89.0 L662.5,88.4 L663.5,87.8 L664.5,87.2 L665.5,86.7 L666.5,86.1 L667.5,85.5 L668.5,84.9 L669.5,84.3 L670.5,83.8 L671.5,83.2 L672.5,82.6 L673.5,82.0 L674.5,81.4 L675.5,80.9 L676.5,80.3 L677.5,79.7 L678.5,79.1 L679.5,78.5 L680.5,78.0 L681.5,77.4 L682.5,76.8 L683.5,76.2 L684.5,75.6 L685.5,75.0 L686.5,74.5 L687.5,73.9 L688.5,73.3 L689.5,72.7 L690.5,72.1 L691.5,71.6 L692.5,71.0 L693.5,70.4 L694.5,69.8 L695.5,69.2 L696.5,68.7 L697.5,68.1 L698.5,67.5 L699.5,66.9 L700.5,66.3 L701.5,65.7 L702.5,65.2 L703.5,64.6 L704.5,64.0 L705.5,63.4 L706.5,62.8 L707.5,62.3 L708.5,61.7 L709.5,61.1 L710.5,60.5 L711.5,59.9 L712.5,59.4 L713.5,58.8 L714.5,58.2 L715.5,57.6 L716.5,57.0 L717.5,56.4 L718.5,55.9 L719.5,55.3 L720.5,54.7 L721.5,54.1 L722.5,53.5 L723.5,53.0 L724.5,52.4 L725.5,51.8 L726.5,51.2 L727.5,50.6 L728.5,50.1 L729.5,49.5 L730.5,48.9 L731.5,48.3 L732.5,47.7 L733.5,47.2 L734.5,46.6 L735.5,46.0 L736.5,45.4 L737.5,44.8 L738.5,44.3 L739.5,43.7 L740.5,43.1 L741.5,42.5 L742.5,41.9 L743.5,41.4 L744.5,40.8" fill="none" stroke="rgba(0,0,255,0.5)" stroke-width="3.2" stroke-dasharray="14.102 2.417" stroke-dashoffset="15.004"/>
<path d="M-3.5,312.1 L-2.5,312.5 L-1.5,312.9 L-0.5,313.3 L0.5,313.8 L1.5,314.4 L2.5,315.0 L3.5,315.7 L4.5,316.4 L5.5,317.2 L6.5,318.1 L7.5,318.9 L8.5,319.9 L9.5,320.8 L10.5,321.8 L11.5,322.9 L12.5,323.9 L13.5,325.0 L14.5,326.1 L15.5,327.3 L16.5,328.5 L17.5,329.7 L18.5,330.9 L19.5,332.1 L20.5,333.4 L21.5,334.6 L22.5,335.9 L23.5,337.2 L24.5,338.4 L25.5,339.7 L26.5,341.0 L27.5,342.3 L28.5,343.6 L29.5,344.8 L30.5,346.1 L31.5,347.4 L32.5,348.7 L33.5,349.9 L34.5,351.2 L35.5,352.5 L36.5,353.7 L37.5,355.0 L38.5,356.3 L39.5,357.5 L40.5,358.8 L41.5,360.1 L42.5,361.3 L43.5,362.6 L44.5,363.9 L45.5,365.2 L46.5,366.4 L47.5,367.7 L48.5,369.0 L49.5,370.3 L50.5,371.6 L51.5,372.9 L52.5,374.2 L53.5,375.4 L54.5,376.7 L55.5,378.0 L56.5,379.4 L57.5,380.7 L58.5,382.0 L59.5,383.3 L60.5,384.6 L61.5,386.0 L62.5,387.3 L63.5,388.6 L64.5,390.0 L65.5,391.3 L66.5,392.7 L67.5,394.0 L68.5,395.4 L69.5,396.7 L70.5,398.1 L71.5,399.5 L72.5,400.8 L73.5,402.2 L74.5,403.5 L75.5,404.9 L76.5,406.2 L77.5,407.6 L78.5,408.9 L79.5,410.3 L80.5,411.6 L81.5,412.9 L82.5,414.3 L83.5,415.6 L84.5,416.9 L85.5,418.2 L86.5,419.5 L87.5,420.8 L88.5,422.1 L89.5,423.4 L90.5,424.6 L91.5,425.9 L92.5,427.1 L93.5,428.4 L94.5,429.6 L95.5,430.8 L96.5,432.0 L97.5,433.2 L98.5,434.4 L99.5,435.5 L100.5,436.7 L101.5,437.8 L102.5,438.9 L103.5,440.0 L104.5,441.1 L105.5,442.2 L106.5,443.2 L107.5,444.3 L108.5,445.3 L109.5,446.3 L110.5,447.3 L111.5,448.3 L112.5,449.3 L113.5,450.2 L114.5,451.2 L115.5,452.1 L116.5,453.0 L117.5,453.9 L118.5,454.7 L119.5,455.6 L120.5,456.4 L121.5,457.2 L122.5,458.0 L123.5,458.8 L124.5,459.6 L125.5,460.3 L126.5,461.1 L127.5,461.8 L128.5,462.5 L129.5,463.2 L130.5,463.8 L131.5,464.5 L132.5,465.1 L133.5,465.7 L134.5,466.3 L135.5,466.8 L136.5,467.4 L137.5,467.9 L138.5,468.4 L139.5,468.9 L140.5,469.4 L141.5,469.8 L142.5,470.3 L143.5,470.7 L144.5,471.1 L145.5,471.5 L146.5,471.8 L147.5,472.2 L148.5,472.5 L149.5,472.8 L150.5,473.1 L151.5,473.4 L152.5,473.6 L153.5,473.9 L154.5,474.1 L155.5,474.3 L156.5,474.5 L157.5,474.7 L158.5,474.8 L159.5,474.9 L160.5,475.1 L161.5,475.2 L162.5,475.2 L163.5,475.3 L164.5,475.4 L165.5,475.4 L166.5,475.4 L167.5,475.4 L168.5,475.4 L169.5,475.3 L170.5,475.3 L171.5,475.2 L172.5,475.1 L173.5,475.0 L174.5,474.9 L175.5,474.7 L176.5,474.6 L177.5,474.4 L178.5,474.2 L179.5,474.0 L180.5,473.7 L181.5,473.5 L182.5,473.2 L183.5,472.9 L184.5,472.6 L185.5,472.3 L186.5,472.0 L187.5,471.6 L188.5,471.2 L189.5,470.8 L190.5,470.4 L191.5,470.0 L192.5,469.5 L193.5,469.0 L194.5,468.5 L195.5,468.0 L196.5,467.5 L197.5,466.9 L198.5,466.4 L199.5,465.8 L200.5,465.2 L201.5,464.5 L202.5,463.9 L203.5,463.2 L204.5,462.5 L205.5,461.8 L206.5,461.1 L207.5,460.3 L208.5,459.6 L209.5,458.8 L210.5,458.0 L211.5,457.2 L212.5,456.3 L213.5,455.5 L214.5,454.6 L215.5,453.7 L216.5,452.8 L217.5,451.9 L218.5,451.0 L219.5,450.1 L220.5,449.1 L221.5,448.1 L222.5,447.1 L223.5,446.1 L224.5,445.1 L225.5,444.1 L226.5,443.0 L227.5,441.9 L228.5,440.9 L229.5,439.8 L230.5,438.7 L231.5,437.6 L232.5,436.5 L233.5,435.3 L234.5,434.2 L235.5,433.0 L236.5,431.8 L237.5,430.7 L238.5,429.5 L239.5,428.3 L240.5,427.1 L241.5,425.8 L242.5,424.6 L243.5,423.4 L244.5,422.1 L245.5,420.9 L246.5,419.6 L247.5,418.3 L248.5,417.0 L249.5,415.8 L250.5,414.5 L251.5,413.2 L252.5,411.9 L253.5,410.5 L254.5,409.2 L255.5,407.9 L256.5,406.6 L257.5,405.2 L258.5,403.9 L259.5,402.6 L260.5,401.2 L261.5,399.9 L262.5,398.5 L263.5,397.2 L264.5,395.8 L265.5,394.5 L266.5,393.1 L267.5,391.7 L268.5,390.4 L269.5,389.0 L270.5,387.6 L271.5,386.3 L272.5,384.9 L273.5,383.6 L274.5,382.2 L275.5,380.8 L276.5,379.5 L277.5,378.1 L278.5,376.8 L279.5,375.4 L280.5,374.1 L281.5,372.7 L282.5,371.4 L283.5,370.0 L284.5,368.7 L285.5,367.3 L286.5,366.0 L287.5,364.7 L288.5,363.4 L289.5,362.0 L290.5,360.7 L291.5,359.4 L292.5,358.1 L293.5,356.8 L294.5,355.5 L295.5,354.3 L296.5,353.0 L297.5,351.7 L298.5,350.4 L299.5,349.2 L300.5,348.0 L301.5,346.7 L302.5,345.5 L303.5,344.3 L304.5,343.1 L305.5,341.9 L306.5,340.7 L307.5,339.5 L308.5,338.3 L309.5,337.2 L310.5,336.0 L311.5,334.9 L312.5,333.7 L313.5,332.6 L314.5,331.5 L315.5,330.4 L316.5,329.3 L317.5,328.2 L318.5,327.1 L319.5,326.1 L320.5,325.0 L321.5,324.0 L322.5,322.9 L323.5,321.9 L324.5,320.9 L325.5,319.9 L326.5,318.9 L327.5,317.9 L328.5,316.9 L329.5,316.0 L330.5,315.0 L331.5,314.1 L332.5,313.1 L333.5,312.2 L334.5,311.3 L335.5,310.4 L336.5,309.5 L337.5,308.6 L338.5,307.7 L339.5,306.8 L340.5,305.9 L341.5,305.1 L342.5,304.2 L343.5,303.4 L344.5,302.6 L345.5,301.8 L346.5,300.9 L347.5,300.1 L348.5,299.4 L349.5,298.6 L350.5,297.8 L351.5,297.0 L352.5,296.3 L353.5,295.5 L354.5,294.8 L355.5,294.1 L356.5,293.3 L357.5,292.6 L358.5,291.9 L359.5,291.2 L360.5,290.5 L361.5,289.8 L362.5,289.2 L363.5,288.5 L364.5,287.8 L365.5,287.2 L366.5,286.5 L367.5,285.9 L368.5,285.2 L369.5,284.6 L370.5,284.0 L371.5,283.4 L372.5,282.7 L373.5,282.1 L374.5,281.5 L375.5,280.9 L376.5,280.3 L377.5,279.7 L378.5,279.2 L379.5,278.6 L380.5,278.0 L381.5,277.4 L382.5,276.9 L383.5,276.3 L384.5,275.7 L385.5,275.2 L386.5,274.6 L387.5,274.1 L388.5,273.5 L389.5,273.0 L390.5,272.4 L391.5,271.9 L392.5,271.3 L393.5,270.8 L394.5,270.3 L395.5,269.7 L396.5,269.2 L397.5,268.6 L398.5,268.1 L399.5,267.6 L400.5,267.0 L401.5,266.5 L402.5,266.0 L403.5,265.5 L404.5,264.9 L405.5,264.4 L406.5,263.9 L407.5,263.3 L408.5,262.8 L409.5,262.3 L410.5,261.8 L411.5,261.2 L412.5,260.7 L413.5,260.2 L414.5,259.6 L415.5,259.1 L416.5,258.6 L417.5,258.1 L418.5,257.5 L419.5,257.0 L420.5,256.5 L421.5,256.0 L422.5,255.4 L423.5,254.9 L424.5,254.4 L425.5,253.9 L426.5,253.3 L427.5,252.8 L428.5,252.3 L429.5,251.8 L430.5,251.3 L431.5,250.7 L432.5,250.2 L433.5,249.7 L434.5,249.2 L435.5,248.6 L436.5,248.1 L437.5,247.6 L438.5,247.1 L439.5,246.6 L440.5,246.0 L441.5,245.5 L442.5,245.0 L443.5,244.5 L444.5,244.0 L445.5,243.4 L446.5,242.9 L447.5,242.4 L448.5,241.9 L449.5,241.4 L450.5,240.8 L451.5,240.3 L452.5,239.8 L453.5,239.3 L454.5,238.8 L455.5,238.2 L456.5,237.7 L457.5,237.2 L458.5,236.7 L459.5,236.2 L460.5,235.7 L461.5,235.1 L462.5,234.6 L463.5,234.1 L464.5,233.6 L465.5,233.1 L466.5,232.5 L467.5,232.0 L468.5,231.5 L469.5,231.0 L470.5,230.5 L471.5,230.0 L472.5,229.4 L473.5,228.9 L474.5,228.4 L475.5,227.9 L476.5,227.4 L477.5,226.9 L478.5,226.3 L479.5,225.8 L480.5,225.3 L481.5,224.8 L482.5,224.3 L483.5,223.8 L484.5,223.2 L485.5,222.7 L486.5,222.2 L487.5,221.7 L488.5,221.2 L489.5,220.6 L490.5,220.1 L491.5,219.6 L492.5,219.1 L493.5,218.6 L494.5,218.0 L495.5,217.5 L496.5,217.0 L497.5,216.5 L498.5,216.0 L499.5,215.4 L500.5,214.9 L501.5,214.4 L502.5,213.9 L503.5,213.4 L504.5,212.8 L505.5,212.3 L506.5,211.8 L507.5,211.3 L508.5,210.8 L509.5,210.2 L510.5,209.7 L511.5,209.2 L512.5,208.7 L513.5,208.1 L514.5,207.6 L515.5,207.1 L516.5,206.6 L517.5,206.1 L518.5,205.6 L519.5,205.1 L520.5,204.5 L521.5,204.0 L522.5,203.5 L523.5,203.0 L524.5,202.5 L525.5,202.0 L526.5,201.5 L527.5,201.0 L528.5,200.5 L529.5,199.9 L530.5,199.4 L531.5,198.9 L532.5,198.4 L533.5,197.8 L534.5,197.3 L535.5,196.8 L536.5,196.2 L537.5,195.7 L538.5,195.2 L539.5,194.6 L540.5,194.1 L541.5,193.6 L542.5,193.0 L543.5,192.5 L544.5,191.9 L545.5,191.4 L546.5,190.8 L547.5,190.3 L548.5,189.7 L549.5,189.2 L550.5,188.6 L551.5,188.1 L552.5,187.5 L553.5,186.9 L554.5,186.4 L555.5,185.8 L556.5,185.3 L557.5,184.7 L558.5,184.1 L559.5,183.6 L560.5,183.0 L561.5,182.4 L562.5,181.8 L563.5,181.3 L564.5,180.7 L565.5,180.1 L566.5,179.6 L567.5,179.0 L568.5,178.4 L569.5,177.8 L570.5,177.3 L571.5,176.7 L572.5,176.1 L573.5,175.5 L574.5,175.0 L575.5,174.4 L576.5,173.8 L577.5,173.3 L578.5,172.7 L579.5,172.1 L580.5,171.5 L581.5,171.0 L582.5,170.4 L583.5,169.8 L584.5,169.2 L585.5,168.6 L586.5,168.1 L587.5,167.5 L588.5,166.9 L589.5,166.3 L590.5,165.8 L591.5,165.2 L592.5,164.6 L593.5,164.0 L594.5,163.5 L595.5,162.9 L596.5,162.3 L597.5,161.7 L598.5,161.1 L599.5,160.6 L600.5,160.0 L601.5,159.4 L602.5,158.8 L603.5,158.2 L604.5,157.7 L605.5,157.1 L606.5,156.5 L607.5,155.9 L608.5,155.3 L609.5,154.8 L610.5,154.2 L611.5,153.6 L612.5,153.0 L613.5,152.4 L614.5,151.9 L615.5,151.3 L616.5,150.7 L617.5,150.1 L618.5,149.5 L619.5,148.9 L620.5,148.4 L621.5,147.8 L622.5,147.2 L623.5,146.6 L624.5,146.0 L625.5,145.5 L626.5,144.9 L627.5,144.3 L628.5,143.7 L629.5,143.1 L630.5,142.5 L631.5,142.0 L632.5,141.4 L633.5,140.8 L634.5,140.2 L635.5,139.6 L636.5,139.0 L637.5,138.5 L638.5,137.9 L639.5,137.3 L640.5,136.7 L641.5,136.1 L642.5,135.6 L643.5,135.0 L644.5,134.4 L645.5,133.8 L646.5,133.2 L647.5,132.6 L648.5,132.1 L649.5,131.5 L650.5,130.9 L651.5,130.3 L652.5,129.7 L653.5,129.1 L654.5,128.6 L655.5,128.0 L656.5,127.4 L657.5,126.8 L658.5,126.2 L659.5,125.6 L660.5,125.1 L661.5,124.5 L662.5,123.9 L663.5,123.3 L664.5,122.7 L665.5,122.1 L666.5,121.6 L667.5,121.0 L668.5,120.4 L669.5,119.8 L670.5,119.2 L671.5,118.7 L672.5,118.1 L673.5,117.5 L674.5,116.9 L675.5,116.3 L676.5,115.7 L677.5,115.2 L678.5,114.6 L679.5,114.0 L680.5,113.4 L681.5,112.8 L682.5,112.3 L683.5,111.7 L684.5,111.1 L685.5,110.5 L686.5,109.9 L687.5,109.4 L688.5,108.8 L689.5,108.2 L690.5,107.6 L691.5,107.0 L692.5,106.5 L693.5,105.9 L694.5,105.3 L695.5,104.7 L696.5,104.1 L697.5,103.6 L698.5,103.0 L699.5,102.4 L700.5,101.8 L701.5,101.2 L702.5,100.7 L703.5,100.1 L704.5,99.5 L705.5,98.9 L706.5,98.4 L707.5,97.8 L708.5,97.2 L709.5,96.6 L710.5,96.0 L711.5,95.5 L712.5,94.9 L713.5,94.3 L714.5,93.7 L715.5,93.2 L716.5,92.6 L717.5,92.0 L718.5,91.4 L719.5,90.9 L720.5,90.3 L721.5,89.7 L722.5,89.1 L723.5,88.6 L724.5,88.0 L725.5,87.4 L726.5,86.9 L727.5,86.3 L728.5,85.7 L729.5,85.1 L730.5,84.6 L731.5,84.0 L732.5,83.4 L733.5,82.9 L734.5,82.3 L735.5,81.7 L736.5,81.1 L737.5,80.6 L738.5,80.0 L739.5,79.4 L740.5,78.9 L741.5,78.3 L742.5,77.7 L743.5,77.2 L744.5,76.6 L745.5,76.0 L746.5,75.5 L747.5,74.9 L748.5,74.3 L749.5,73.8 L750.5,73.2 L751.5,72.6 L752.5,72.1 L753.5,71.5 L754.5,70.9 L755.5,70.4" fill="none" stroke="#0000ff" stroke-width="3.4" stroke-dasharray="13.956 7.676" stroke-dashoffset="20.095"/>
<path d="M-3.5,312.7 L-2.5,313.1 L-1.5,313.6 L-0.5,314.1 L0.5,314.6 L1.5,315.1 L2.5,315.6 L3.5,316.1 L4.5,316.6 L5.5,317.1 L6.5,317.6 L7.5,318.1 L8.5,318.7 L9.5,319.2 L10.5,319.7 L11.5,320.3 L12.5,320.8 L13.5,321.4 L14.5,321.9 L15.5,322.5 L16.5,323.0 L17.5,323.5 L18.5,324.1 L19.5,324.6 L20.5,325.2 L21.5,325.7 L22.5,326.2 L23.5,326.8 L24.5,327.3 L25.5,327.8 L26.5,328.3 L27.5,328.8 L28.5,329.3 L29.5,329.8 L30.5,330.3 L31.5,330.8 L32.5,331.3 L33.5,331.8 L34.5,332.2 L35.5,332.7 L36.5,333.2 L37.5,333.6 L38.5,334.1 L39.5,334.5 L40.5,334.9 L41.5,335.4 L42.5,335.8 L43.5,336.2 L44.5,336.7 L45.5,337.1 L46.5,337.5 L47.5,337.9 L48.5,338.3 L49.5,338.7 L50.5,339.1 L51.5,339.5 L52.5,339.9 L53.5,340.3 L54.5,340.7 L55.5,341.1 L56.5,341.5 L57.5,341.9 L58.5,342.3 L59.5,342.7 L60.5,343.1 L61.5,343.4 L62.5,343.8 L63.5,344.2 L64.5,344.6 L65.5,344.9 L66.5,345.3 L67.5,345.7 L68.5,346.0 L69.5,346.4 L70.5,346.8 L71.5,347.1 L72.5,347.5 L73.5,347.8 L74.5,348.2 L75.5,348.5 L76.5,348.9 L77.5,349.2 L78.5,349.6 L79.5,349.9 L80.5,350.2 L81.5,350.6 L82.5,350.9 L83.5,351.2 L84.5,351.5 L85.5,351.8 L86.5,352.1 L87.5,352.4 L88.5,352.7 L89.5,353.0 L90.5,353.3 L91.5,353.6 L92.5,353.8 L93.5,354.1 L94.5,354.4 L95.5,354.6 L96.5,354.9 L97.5,355.1 L98.5,355.4 L99.5,355.6 L100.5,355.8 L101.5,356.1 L102.5,356.3 L103.5,356.5 L104.5,356.7 L105.5,356.9 L106.5,357.1 L107.5,357.3 L108.5,357.5 L109.5,357.7 L110.5,357.9 L111.5,358.0 L112.5,358.2 L113.5,358.4 L114.5,358.5 L115.5,358.7 L116.5,358.9 L117.5,359.0 L118.5,359.2 L119.5,359.3 L120.5,359.5 L121.5,359.6 L122.5,359.8 L123.5,359.9 L124.5,360.1 L125.5,360.2 L126.5,360.4 L127.5,360.5 L128.5,360.6 L129.5,360.8 L130.5,360.9 L131.5,361.0 L132.5,361.2 L133.5,361.3 L134.5,361.5 L135.5,361.6 L136.5,361.7 L137.5,361.8 L138.5,362.0 L139.5,362.1 L140.5,362.2 L141.5,362.4 L142.5,362.5 L143.5,362.6 L144.5,362.7 L145.5,362.8 L146.5,362.9 L147.5,363.0 L148.5,363.1 L149.5,363.2 L150.5,363.3 L151.5,363.4 L152.5,363.5 L153.5,363.6 L154.5,363.7 L155.5,363.7 L156.5,363.8 L157.5,363.9 L158.5,363.9 L159.5,364.0 L160.5,364.0 L161.5,364.1 L162.5,364.1 L163.5,364.1 L164.5,364.1 L165.5,364.1 L166.5,364.1 L167.5,364.1 L168.5,364.1 L169.5,364.1 L170.5,364.1 L171.5,364.1 L172.5,364.0 L173.5,364.0 L174.5,363.9 L175.5,363.9 L176.5,363.8 L177.5,363.8 L178.5,363.7 L179.5,363.6 L180.5,363.5 L181.5,363.4 L182.5,363.4 L183.5,363.3 L184.5,363.2 L185.5,363.1 L186.5,363.0 L187.5,362.8 L188.5,362.7 L189.5,362.6 L190.5,362.5 L191.5,362.4 L192.5,362.3 L193.5,362.1 L194.5,362.0 L195.5,361.9 L196.5,361.7 L197.5,361.6 L198.5,361.5 L199.5,361.3 L200.5,361.2 L201.5,361.1 L202.5,360.9 L203.5,360.8 L204.5,360.6 L205.5,360.5 L206.5,360.4 L207.5,360.2 L208.5,360.1 L209.5,359.9 L210.5,359.8 L211.5,359.6 L212.5,359.5 L213.5,359.3 L214.5,359.2 L215.5,359.0 L216.5,358.8 L217.5,358.7 L218.5,358.5 L219.5,358.3 L220.5,358.2 L221.5,358.0 L222.5,357.8 L223.5,357.6 L224.5,357.4 L225.5,357.2 L226.5,357.0 L227.5,356.8 L228.5,356.6 L229.5,356.4 L230.5,356.2 L231.5,356.0 L232.5,355.8 L233.5,355.6 L234.5,355.3 L235.5,355.1 L236.5,354.8 L237.5,354.6 L238.5,354.3 L239.5,354.1 L240.5,353.8 L241.5,353.6 L242.5,353.3 L243.5,353.0 L244.5,352.7 L245.5,352.4 L246.5,352.1 L247.5,351.8 L248.5,351.5 L249.5,351.2 L250.5,350.9 L251.5,350.6 L252.5,350.3 L253.5,350.0 L254.5,349.6 L255.5,349.3 L256.5,349.0 L257.5,348.6 L258.5,348.3 L259.5,347.9 L260.5,347.6 L261.5,347.2 L262.5,346.9 L263.5,346.5 L264.5,346.1 L265.5,345.8 L266.5,345.4 L267.5,345.0 L268.5,344.7 L269.5,344.3 L270.5,343.9 L271.5,343.5 L272.5,343.1 L273.5,342.7 L274.5,342.3 L275.5,341.9 L276.5,341.5 L277.5,341.1 L278.5,340.7 L279.5,340.3 L280.5,339.9 L281.5,339.5 L282.5,339.1 L283.5,338.7 L284.5,338.2 L285.5,337.8 L286.5,337.4 L287.5,337.0 L288.5,336.5 L289.5,336.1 L290.5,335.7 L291.5,335.2 L292.5,334.8 L293.5,334.3 L294.5,333.9 L295.5,333.4 L296.5,333.0 L297.5,332.5 L298.5,332.1 L299.5,331.6 L300.5,331.1 L301.5,330.6 L302.5,330.2 L303.5,329.7 L304.5,329.2 L305.5,328.7 L306.5,328.2 L307.5,327.8 L308.5,327.3 L309.5,326.8 L310.5,326.3 L311.5,325.8 L312.5,325.3 L313.5,324.8 L314.5,324.2 L315.5,323.7 L316.5,323.2 L317.5,322.7 L318.5,322.2 L319.5,321.7 L320.5,321.1 L321.5,320.6 L322.5,320.1 L323.5,319.6 L324.5,319.0 L325.5,318.5 L326.5,318.0 L327.5,317.4 L328.5,316.9 L329.5,316.3 L330.5,315.8 L331.5,315.3 L332.5,314.7 L333.5,314.2 L334.5,313.6 L335.5,313.1 L336.5,312.6 L337.5,312.0 L338.5,311.5 L339.5,310.9 L340.5,310.4 L341.5,309.8 L342.5,309.3 L343.5,308.7 L344.5,308.2 L345.5,307.6 L346.5,307.1 L347.5,306.6 L348.5,306.0 L349.5,305.5 L350.5,304.9 L351.5,304.4 L352.5,303.8 L353.5,303.3 L354.5,302.8 L355.5,302.2 L356.5,301.7 L357.5,301.1 L358.5,300.6 L359.5,300.1 L360.5,299.5 L361.5,299.0 L362.5,298.5 L363.5,297.9 L364.5,297.4 L365.5,296.8 L366.5,296.3 L367.5,295.8 L368.5,295.2 L369.5,294.7 L370.5,294.2 L371.5,293.6 L372.5,293.1 L373.5,292.6 L374.5,292.0 L375.5,291.5 L376.5,290.9 L377.5,290.4 L378.5,289.9 L379.5,289.3 L380.5,288.8 L381.5,288.3 L382.5,287.7 L383.5,287.2 L384.5,286.6 L385.5,286.1 L386.5,285.6 L387.5,285.0 L388.5,284.5 L389.5,283.9 L390.5,283.4 L391.5,282.8 L392.5,282.3 L393.5,281.7 L394.5,281.2 L395.5,280.6 L396.5,280.1 L397.5,279.5 L398.5,279.0 L399.5,278.4 L400.5,277.9 L401.5,277.3 L402.5,276.8 L403.5,276.2 L404.5,275.6 L405.5,275.1 L406.5,274.5 L407.5,273.9 L408.5,273.4 L409.5,272.8 L410.5,272.2 L411.5,271.7 L412.5,271.1 L413.5,270.5 L414.5,270.0 L415.5,269.4 L416.5,268.8 L417.5,268.2 L418.5,267.7 L419.5,267.1 L420.5,266.5 L421.5,265.9 L422.5,265.3 L423.5,264.8 L424.5,264.2 L425.5,263.6 L426.5,263.0 L427.5,262.4 L428.5,261.8 L429.5,261.2 L430.5,260.7 L431.5,260.1 L432.5,259.5 L433.5,258.9 L434.5,258.3 L435.5,257.7 L436.5,257.1 L437.5,256.5 L438.5,255.9 L439.5,255.3 L440.5,254.7 L441.5,254.1 L442.5,253.5 L443.5,252.9 L444.5,252.3 L445.5,251.8 L446.5,251.2 L447.5,250.6 L448.5,250.0 L449.5,249.4 L450.5,248.8 L451.5,248.2 L452.5,247.6 L453.5,247.0 L454.5,246.4 L455.5,245.8 L456.5,245.2 L457.5,244.6 L458.5,244.0 L459.5,243.4 L460.5,242.8 L461.5,242.2 L462.5,241.6 L463.5,241.0 L464.5,240.4 L465.5,239.8 L466.5,239.2 L467.5,238.6 L468.5,238.0 L469.5,237.4 L470.5,236.8 L471.5,236.1 L472.5,235.5 L473.5,234.9 L474.5,234.3 L475.5,233.7 L476.5,233.1 L477.5,232.5 L478.5,231.9 L479.5,231.3 L480.5,230.7 L481.5,230.1 L482.5,229.5 L483.5,228.9 L484.5,228.3 L485.5,227.7 L486.5,227.1 L487.5,226.5 L488.5,225.9 L489.5,225.3 L490.5,224.8 L491.5,224.2 L492.5,223.6 L493.5,223.0 L494.5,222.4 L495.5,221.8 L496.5,221.2 L497.5,220.6 L498.5,220.0 L499.5,219.4 L500.5,218.8 L501.5,218.2 L502.5,217.6 L503.5,217.0 L504.5,216.4 L505.5,215.8 L506.5,215.2 L507.5,214.6 L508.5,214.0 L509.5,213.4 L510.5,212.8 L511.5,212.2 L512.5,211.6 L513.5,211.0 L514.5,210.4 L515.5,209.8 L516.5,209.2 L517.5,208.6 L518.5,208.0 L519.5,207.3 L520.5,206.7 L521.5,206.1 L522.5,205.5 L523.5,204.8 L524.5,204.2 L525.5,203.6 L526.5,203.0 L527.5,202.4 L528.5,201.8 L529.5,201.2 L530.5,200.6 L531.5,199.9 L532.5,199.3 L533.5,198.7 L534.5,198.1 L535.5,197.5 L536.5,196.9 L537.5,196.4 L538.5,195.8 L539.5,195.2 L540.5,194.6 L541.5,194.0 L542.5,193.4 L543.5,192.8 L544.5,192.2 L545.5,191.6 L546.5,191.1 L547.5,190.5 L548.5,189.9 L549.5,189.3 L550.5,188.7 L551.5,188.1 L552.5,187.6 L553.5,187.0 L554.5,186.4 L555.5,185.8 L556.5,185.3 L557.5,184.7 L558.5,184.1 L559.5,183.6 L560.5,183.0 L561.5,182.4 L562.5,181.8 L563.5,181.3 L564.5,180.7 L565.5,180.1 L566.5,179.6 L567.5,179.0 L568.5,178.4 L569.5,177.8 L570.5,177.3 L571.5,176.7 L572.5,176.1 L573.5,175.5 L574.5,175.0 L575.5,174.4 L576.5,173.8 L577.5,173.3 L578.5,172.7 L579.5,172.1 L580.5,171.5 L581.5,171.0 L582.5,170.4 L583.5,169.8 L584.5,169.2 L585.5,168.6 L586.5,168.1 L587.5,167.5 L588.5,166.9 L589.5,166.3 L590.5,165.8 L591.5,165.2 L592.5,164.6 L593.5,164.0 L594.5,163.5 L595.5,162.9 L596.5,162.3 L597.5,161.7 L598.5,161.1 L599.5,160.6 L600.5,160.0 L601.5,159.4 L602.5,158.8 L603.5,158.2 L604.5,157.7 L605.5,157.1 L606.5,156.5 L607.5,155.9 L608.5,155.3 L609.5,154.8 L610.5,154.2 L611.5,153.6 L612.5,153.0 L613.5,152.4 L614.5,151.9 L615.5,151.3 L616.5,150.7 L617.5,150.1 L618.5,149.5 L619.5,148.9 L620.5,148.4 L621.5,147.8 L622.5,147.2 L623.5,146.6 L624.5,146.0 L625.5,145.5 L626.5,144.9 L627.5,144.3 L628.5,143.7 L629.5,143.1 L630.5,142.5 L631.5,142.0 L632.5,141.4 L633.5,140.8 L634.5,140.2 L635.5,139.6 L636.5,139.0 L637.5,138.5 L638.5,137.9 L639.5,137.3 L640.5,136.7 L641.5,136.1 L642.5,135.6 L643.5,135.0 L644.5,134.4 L645.5,133.8 L646.5,133.2 L647.5,132.6 L648.5,132.1 L649.5,131.5 L650.5,130.9 L651.5,130.3 L652.5,129.7 L653.5,129.1 L654.5,128.6 L655.5,128.0 L656.5,127.4 L657.5,126.8 L658.5,126.2 L659.5,125.6 L660.5,125.1 L661.5,124.5 L662.5,123.9 L663.5,123.3 L664.5,122.7 L665.5,122.1 L666.5,121.6 L667.5,121.0 L668.5,120.4 L669.5,119.8 L670.5,119.2 L671.5,118.7 L672.5,118.1 L673.5,117.5 L674.5,116.9 L675.5,116.3 L676.5,115.7 L677.5,115.2 L678.5,114.6 L679.5,114.0 L680.5,113.4 L681.5,112.8 L682.5,112.3 L683.5,111.7 L684.5,111.1 L685.5,110.5 L686.5,109.9 L687.5,109.4 L688.5,108.8 L689.5,108.2 L690.5,107.6 L691.5,107.0 L692.5,106.5 L693.5,105.9 L694.5,105.3 L695.5,104.7 L696.5,104.1 L697.5,103.6 L698.5,103.0 L699.5,102.4 L700.5,101.8 L701.5,101.2 L702.5,100.7 L703.5,100.1 L704.5,99.5 L705.5,98.9 L706.5,98.4 L707.5,97.8 L708.5,97.2 L709.5,96.6 L710.5,96.0 L711.5,95.5 L712.5,94.9 L713.5,94.3 L714.5,93.7 L715.5,93.2 L716.5,92.6 L717.5,92.0 L718.5,91.4 L719.5,90.9 L720.5,90.3 L721.5,89.7 L722.5,89.1 L723.5,88.6 L724.5,88.0 L725.5,87.4 L726.5,86.9 L727.5,86.3 L728.5,85.7 L729.5,85.1 L730.5,84.6 L731.5,84.0 L732.5,83.4 L733.5,82.9 L734.5,82.3 L735.5,81.7 L736.5,81.1 L737.5,80.6 L738.5,80.0 L739.5,79.4 L740.5,78.9 L741.5,78.3 L742.5,77.7 L743.5,77.2 L744.5,76.6 L745.5,76.0 L746.5,75.5 L747.5,74.9 L748.5,74.3 L749.5,73.8 L750.5,73.2 L751.5,72.6 L752.5,72.1 L753.5,71.5 L754.5,70.9 L755.5,70.4" fill="none" stroke="#00b900" stroke-width="3.2" stroke-dasharray="4.650 2.950" stroke-dashoffset="5.252"/>
<path d="M-3.5,312.2 L-2.5,313.1 L-1.5,314.0 L-0.5,314.9 L0.5,315.8 L1.5,316.8 L2.5,317.7 L3.5,318.6 L4.5,319.5 L5.5,320.5 L6.5,321.4 L7.5,322.4 L8.5,323.3 L9.5,324.3 L10.5,325.2 L11.5,326.2 L12.5,327.1 L13.5,328.1 L14.5,329.1 L15.5,330.1 L16.5,331.1 L17.5,332.0 L18.5,333.0 L19.5,334.0 L20.5,335.0 L21.5,336.0 L22.5,337.0 L23.5,338.0 L24.5,339.1 L25.5,340.1 L26.5,341.1 L27.5,342.1 L28.5,343.2 L29.5,344.2 L30.5,345.2 L31.5,346.3 L32.5,347.3 L33.5,348.3 L34.5,349.4 L35.5,350.4 L36.5,351.5 L37.5,352.5 L38.5,353.6 L39.5,354.6 L40.5,355.7 L41.5,356.7 L42.5,357.8 L43.5,358.8 L44.5,359.9 L45.5,361.0 L46.5,362.0 L47.5,363.1 L48.5,364.1 L49.5,365.2 L50.5,366.2 L51.5,367.3 L52.5,368.4 L53.5,369.4 L54.5,370.5 L55.5,371.5 L56.5,372.6 L57.5,373.6 L58.5,374.7 L59.5,375.7 L60.5,376.8 L61.5,377.8 L62.5,378.9 L63.5,379.9 L64.5,380.9 L65.5,382.0 L66.5,383.0 L67.5,384.0 L68.5,385.0 L69.5,386.1 L70.5,387.1 L71.5,388.1 L72.5,389.1 L73.5,390.1 L74.5,391.1 L75.5,392.1 L76.5,393.1 L77.5,394.1 L78.5,395.1 L79.5,396.1 L80.5,397.1 L81.5,398.0 L82.5,399.0 L83.5,400.0 L84.5,400.9 L85.5,401.9 L86.5,402.8 L87.5,403.8 L88.5,404.7 L89.5,405.6 L90.5,406.6 L91.5,407.5 L92.5,408.4 L93.5,409.3 L94.5,410.2 L95.5,411.1 L96.5,412.0 L97.5,412.9 L98.5,413.8 L99.5,414.7 L100.5,415.5 L101.5,416.4 L102.5,417.2 L103.5,418.1 L104.5,418.9 L105.5,419.7 L106.5,420.6 L107.5,421.4 L108.5,422.2 L109.5,422.9 L110.5,423.7 L111.5,424.5 L112.5,425.3 L113.5,426.0 L114.5,426.7 L115.5,427.5 L116.5,428.2 L117.5,428.9 L118.5,429.6 L119.5,430.3 L120.5,430.9 L121.5,431.6 L122.5,432.2 L123.5,432.9 L124.5,433.5 L125.5,434.1 L126.5,434.7 L127.5,435.3 L128.5,435.8 L129.5,436.4 L130.5,436.9 L131.5,437.5 L132.5,438.0 L133.5,438.4 L134.5,438.9 L135.5,439.4 L136.5,439.8 L137.5,440.3 L138.5,440.7 L139.5,441.1 L140.5,441.5 L141.5,441.8 L142.5,442.2 L143.5,442.5 L144.5,442.9 L145.5,443.2 L146.5,443.5 L147.5,443.8 L148.5,444.0 L149.5,444.3 L150.5,444.5 L151.5,444.7 L152.5,445.0 L153.5,445.1 L154.5,445.3 L155.5,445.5 L156.5,445.6 L157.5,445.8 L158.5,445.9 L159.5,446.0 L160.5,446.1 L161.5,446.2 L162.5,446.3 L163.5,446.3 L164.5,446.3 L165.5,446.4 L166.5,446.4 L167.5,446.4 L168.5,446.4 L169.5,446.3 L170.5,446.3 L171.5,446.2 L172.5,446.1 L173.5,446.0 L174.5,445.9 L175.5,445.8 L176.5,445.7 L177.5,445.5 L178.5,445.4 L179.5,445.2 L180.5,445.0 L181.5,444.8 L182.5,444.6 L183.5,444.3 L184.5,444.1 L185.5,443.8 L186.5,443.5 L187.5,443.2 L188.5,442.9 L189.5,442.6 L190.5,442.2 L191.5,441.9 L192.5,441.5 L193.5,441.1 L194.5,440.7 L195.5,440.3 L196.5,439.9 L197.5,439.4 L198.5,439.0 L199.5,438.5 L200.5,438.0 L201.5,437.5 L202.5,437.0 L203.5,436.4 L204.5,435.9 L205.5,435.3 L206.5,434.7 L207.5,434.1 L208.5,433.5 L209.5,432.9 L210.5,432.2 L211.5,431.6 L212.5,430.9 L213.5,430.2 L214.5,429.6 L215.5,428.9 L216.5,428.1 L217.5,427.4 L218.5,426.7 L219.5,425.9 L220.5,425.2 L221.5,424.4 L222.5,423.7 L223.5,422.9 L224.5,422.1 L225.5,421.3 L226.5,420.5 L227.5,419.6 L228.5,418.8 L229.5,418.0 L230.5,417.1 L231.5,416.3 L232.5,415.4 L233.5,414.6 L234.5,413.7 L235.5,412.8 L236.5,411.9 L237.5,411.1 L238.5,410.2 L239.5,409.3 L240.5,408.4 L241.5,407.5 L242.5,406.6 L243.5,405.6 L244.5,404.7 L245.5,403.8 L246.5,402.8 L247.5,401.9 L248.5,401.0 L249.5,400.0 L250.5,399.1 L251.5,398.1 L252.5,397.1 L253.5,396.2 L254.5,395.2 L255.5,394.2 L256.5,393.2 L257.5,392.2 L258.5,391.3 L259.5,390.3 L260.5,389.3 L261.5,388.3 L262.5,387.2 L263.5,386.2 L264.5,385.2 L265.5,384.2 L266.5,383.2 L267.5,382.1 L268.5,381.1 L269.5,380.1 L270.5,379.0 L271.5,378.0 L272.5,376.9 L273.5,375.9 L274.5,374.8 L275.5,373.7 L276.5,372.7 L277.5,371.6 L278.5,370.5 L279.5,369.5 L280.5,368.4 L281.5,367.3 L282.5,366.2 L283.5,365.2 L284.5,364.1 L285.5,363.0 L286.5,361.9 L287.5,360.9 L288.5,359.8 L289.5,358.7 L290.5,357.6 L291.5,356.5 L292.5,355.5 L293.5,354.4 L294.5,353.3 L295.5,352.2 L296.5,351.2 L297.5,350.1 L298.5,349.1 L299.5,348.0 L300.5,346.9 L301.5,345.9 L302.5,344.8 L303.5,343.8 L304.5,342.7 L305.5,341.7 L306.5,340.7 L307.5,339.7 L308.5,338.6 L309.5,337.6 L310.5,336.6 L311.5,335.6 L312.5,334.6 L313.5,333.6 L314.5,332.6 L315.5,331.6 L316.5,330.7 L317.5,329.7 L318.5,328.7 L319.5,327.8 L320.5,326.8 L321.5,325.9 L322.5,324.9 L323.5,324.0 L324.5,323.0 L325.5,322.1 L326.5,321.2 L327.5,320.3 L328.5,319.4 L329.5,318.5 L330.5,317.6 L331.5,316.7 L332.5,315.8 L333.5,314.9 L334.5,314.1 L335.5,313.2 L336.5,312.4 L337.5,311.5 L338.5,310.7 L339.5,309.9 L340.5,309.0 L341.5,308.2 L342.5,307.4 L343.5,306.6 L344.5,305.8 L345.5,305.0 L346.5,304.2 L347.5,303.4 L348.5,302.7 L349.5,301.9 L350.5,301.2 L351.5,300.4 L352.5,299.7 L353.5,299.0 L354.5,298.2 L355.5,297.5 L356.5,296.8 L357.5,296.1 L358.5,295.4 L359.5,294.7 L360.5,294.0 L361.5,293.4 L362.5,292.7 L363.5,292.0 L364.5,291.4 L365.5,290.7 L366.5,290.1 L367.5,289.4 L368.5,288.8 L369.5,288.2 L370.5,287.6 L371.5,286.9 L372.5,286.3 L373.5,285.7 L374.5,285.1 L375.5,284.5 L376.5,283.9 L377.5,283.3 L378.5,282.7 L379.5,282.1 L380.5,281.6 L381.5,281.0 L382.5,280.4 L383.5,279.8 L384.5,279.3 L385.5,278.7 L386.5,278.1 L387.5,277.6 L388.5,277.0 L389.5,276.5 L390.5,275.9 L391.5,275.4 L392.5,274.8 L393.5,274.3 L394.5,273.7 L395.5,273.2 L396.5,272.6 L397.5,272.1 L398.5,271.5 L399.5,271.0 L400.5,270.5 L401.5,269.9 L402.5,269.4 L403.5,268.8 L404.5,268.3 L405.5,267.8 L406.5,267.2 L407.5,266.7 L408.5,266.1 L409.5,265.6 L410.5,265.1 L411.5,264.5 L412.5,264.0 L413.5,263.5 L414.5,262.9 L415.5,262.4 L416.5,261.9 L417.5,261.3 L418.5,260.8 L419.5,260.2 L420.5,259.7 L421.5,259.2 L422.5,258.6 L423.5,258.1 L424.5,257.6 L425.5,257.0 L426.5,256.5 L427.5,256.0 L428.5,255.4 L429.5,254.9 L430.5,254.4 L431.5,253.8 L432.5,253.3 L433.5,252.8 L434.5,252.2 L435.5,251.7 L436.5,251.2 L437.5,250.6 L438.5,250.1 L439.5,249.6 L440.5,249.0 L441.5,248.5 L442.5,248.0 L443.5,247.4 L444.5,246.9 L445.5,246.4 L446.5,245.8 L447.5,245.3 L448.5,244.8 L449.5,244.2 L450.5,243.7 L451.5,243.2 L452.5,242.6 L453.5,242.1 L454.5,241.5 L455.5,241.0 L456.5,240.5 L457.5,239.9 L458.5,239.4 L459.5,238.9 L460.5,238.3 L461.5,237.8 L462.5,237.3 L463.5,236.7 L464.5,236.2 L465.5,235.6 L466.5,235.1 L467.5,234.6 L468.5,234.0 L469.5,233.5 L470.5,232.9 L471.5,232.4 L472.5,231.9 L473.5,231.3 L474.5,230.8 L475.5,230.2 L476.5,229.7 L477.5,229.2 L478.5,228.6 L479.5,228.1 L480.5,227.5 L481.5,227.0 L482.5,226.4 L483.5,225.9 L484.5,225.4 L485.5,224.8 L486.5,224.3 L487.5,223.7 L488.5,223.2 L489.5,222.6 L490.5,222.1 L491.5,221.5 L492.5,221.0 L493.5,220.4 L494.5,219.9 L495.5,219.3 L496.5,218.8 L497.5,218.2 L498.5,217.7 L499.5,217.1 L500.5,216.6 L501.5,216.0 L502.5,215.5 L503.5,214.9 L504.5,214.4 L505.5,213.8 L506.5,213.3 L507.5,212.7 L508.5,212.2 L509.5,211.6 L510.5,211.1 L511.5,210.5 L512.5,210.0 L513.5,209.4 L514.5,208.9 L515.5,208.3 L516.5,207.8 L517.5,207.2 L518.5,206.6 L519.5,206.1 L520.5,205.5 L521.5,205.0 L522.5,204.4 L523.5,203.9 L524.5,203.3 L525.5,202.7 L526.5,202.2 L527.5,201.6 L528.5,201.1 L529.5,200.5 L530.5,199.9 L531.5,199.4 L532.5,198.8 L533.5,198.3 L534.5,197.7 L535.5,197.1 L536.5,196.6 L537.5,196.0 L538.5,195.5 L539.5,194.9 L540.5,194.3 L541.5,193.8 L542.5,193.2 L543.5,192.6 L544.5,192.1 L545.5,191.5 L546.5,190.9 L547.5,190.4 L548.5,189.8 L549.5,189.2 L550.5,188.7 L551.5,188.1 L552.5,187.5 L553.5,187.0 L554.5,186.4 L555.5,185.8 L556.5,185.3 L557.5,184.7 L558.5,184.1 L559.5,183.6 L560.5,183.0 L561.5,182.4 L562.5,181.8 L563.5,181.3 L564.5,180.7 L565.5,180.1 L566.5,179.6 L567.5,179.0 L568.5,178.4 L569.5,177.8 L570.5,177.3 L571.5,176.7 L572.5,176.1 L573.5,175.5 L574.5,175.0 L575.5,174.4 L576.5,173.8 L577.5,173.3 L578.5,172.7 L579.5,172.1 L580.5,171.5 L581.5,171.0 L582.5,170.4 L583.5,169.8 L584.5,169.2 L585.5,168.6 L586.5,168.1 L587.5,167.5 L588.5,166.9 L589.5,166.3 L590.5,165.8 L591.5,165.2 L592.5,164.6 L593.5,164.0 L594.5,163.5 L595.5,162.9 L596.5,162.3 L597.5,161.7 L598.5,161.1 L599.5,160.6 L600.5,160.0 L601.5,159.4 L602.5,158.8 L603.5,158.2 L604.5,157.7 L605.5,157.1 L606.5,156.5 L607.5,155.9 L608.5,155.3 L609.5,154.8 L610.5,154.2 L611.5,153.6 L612.5,153.0 L613.5,152.4 L614.5,151.9 L615.5,151.3 L616.5,150.7 L617.5,150.1 L618.5,149.5 L619.5,148.9 L620.5,148.4 L621.5,147.8 L622.5,147.2 L623.5,146.6 L624.5,146.0 L625.5,145.5 L626.5,144.9 L627.5,144.3 L628.5,143.7 L629.5,143.1 L630.5,142.5 L631.5,142.0 L632.5,141.4 L633.5,140.8 L634.5,140.2 L635.5,139.6 L636.5,139.0 L637.5,138.5 L638.5,137.9 L639.5,137.3 L640.5,136.7 L641.5,136.1 L642.5,135.6 L643.5,135.0 L644.5,134.4 L645.5,133.8 L646.5,133.2 L647.5,132.6 L648.5,132.1 L649.5,131.5 L650.5,130.9 L651.5,130.3 L652.5,129.7 L653.5,129.1 L654.5,128.6 L655.5,128.0 L656.5,127.4 L657.5,126.8 L658.5,126.2 L659.5,125.6 L660.5,125.1 L661.5,124.5 L662.5,123.9 L663.5,123.3 L664.5,122.7 L665.5,122.1 L666.5,121.6 L667.5,121.0 L668.5,120.4 L669.5,119.8 L670.5,119.2 L671.5,118.7 L672.5,118.1 L673.5,117.5 L674.5,116.9 L675.5,116.3 L676.5,115.7 L677.5,115.2 L678.5,114.6 L679.5,114.0 L680.5,113.4 L681.5,112.8 L682.5,112.3 L683.5,111.7 L684.5,111.1 L685.5,110.5 L686.5,109.9 L687.5,109.4 L688.5,108.8 L689.5,108.2 L690.5,107.6 L691.5,107.0 L692.5,106.5 L693.5,105.9 L694.5,105.3 L695.5,104.7 L696.5,104.1 L697.5,103.6 L698.5,103.0 L699.5,102.4 L700.5,101.8 L701.5,101.2 L702.5,100.7 L703.5,100.1 L704.5,99.5 L705.5,98.9 L706.5,98.4 L707.5,97.8 L708.5,97.2 L709.5,96.6 L710.5,96.0 L711.5,95.5 L712.5,94.9 L713.5,94.3 L714.5,93.7 L715.5,93.2 L716.5,92.6 L717.5,92.0 L718.5,91.4 L719.5,90.9 L720.5,90.3 L721.5,89.7 L722.5,89.1 L723.5,88.6 L724.5,88.0 L725.5,87.4 L726.5,86.9 L727.5,86.3 L728.5,85.7 L729.5,85.1 L730.5,84.6 L731.5,84.0 L732.5,83.4 L733.5,82.9 L734.5,82.3 L735.5,81.7 L736.5,81.1 L737.5,80.6 L738.5,80.0 L739.5,79.4 L740.5,78.9 L741.5,78.3 L742.5,77.7 L743.5,77.2 L744.5,76.6 L745.5,76.0 L746.5,75.5 L747.5,74.9 L748.5,74.3 L749.5,73.8 L750.5,73.2 L751.5,72.6 L752.5,72.1 L753.5,71.5 L754.5,70.9 L755.5,70.4" fill="none" stroke="#ff0000" stroke-width="4.6"/>
<path d="M0,738.6 H747 M166.5,0 V777.6 M33.8,738.6 v-5.2 M67.0,738.6 v-5.2 M100.2,738.6 v-5.2 M133.3,738.6 v-5.2 M199.7,738.6 v-5.2 M232.8,738.6 v-5.2 M266.0,738.6 v-5.2 M299.2,738.6 v-5.2 M332.4,738.6 v-8.6 M365.5,738.6 v-5.2 M398.7,738.6 v-5.2 M431.9,738.6 v-5.2 M465.0,738.6 v-5.2 M498.2,738.6 v-8.6 M531.4,738.6 v-5.2 M564.5,738.6 v-5.2 M597.7,738.6 v-5.2 M630.9,738.6 v-5.2 M664.0,738.6 v-8.6 M697.2,738.6 v-5.2 M730.4,738.6 v-5.2 M166.5,772.4 h5.2 M166.5,704.8 h5.2 M166.5,671.0 h5.2 M166.5,637.1 h5.2 M166.5,603.3 h5.2 M166.5,569.5 h8.6 M166.5,535.7 h5.2 M166.5,501.9 h5.2 M166.5,468.0 h5.2 M166.5,434.2 h5.2 M166.5,400.4 h8.6 M166.5,366.6 h5.2 M166.5,332.8 h5.2 M166.5,298.9 h5.2 M166.5,265.1 h5.2 M166.5,231.3 h8.6 M166.5,197.5 h5.2 M166.5,163.7 h5.2 M166.5,129.8 h5.2 M166.5,96.0 h5.2 M166.5,62.2 h8.6 M166.5,28.4 h5.2 M166.5,-5.4 h5.2" fill="none" stroke="#555555" stroke-width="1"/>
<path d="M188.6,20.3 H317.1" fill="none" stroke="#ff0000" stroke-width="4.6"/>
<path d="M189,63.4 H317.1" fill="none" stroke="rgba(0,0,255,0.5)" stroke-width="3.2" stroke-dasharray="14.0 2.4"/>
<path d="M189,106.8 H317.1" fill="none" stroke="#0000ff" stroke-width="3.4" stroke-dasharray="14.0 7.7"/>
<path d="M189,150.4 H317.1" fill="none" stroke="#00b900" stroke-width="3.2" stroke-dasharray="4.65 2.95"/>
<path d="M459.2,346.1 H582" fill="none" stroke="rgba(0,0,255,0.6)" stroke-width="2.2" stroke-dasharray="13.2 19.3"/>
<path d="M459.2,388.1 H583" fill="none" stroke="rgba(0,170,0,0.6)" stroke-width="2.5" stroke-dasharray="3.6 8.4"/>
<g id="labels" style="opacity:0.999">
<text transform="translate(336.07,26.90) scale(0.808,1.000)" font-family="Liberation Sans, sans-serif" font-size="25.6" fill="#000" stroke="#fff" stroke-width="0.56" paint-order="fill stroke">S</text><text transform="translate(348.79,26.90) scale(1.133,1.000)" font-family="Liberation Sans, sans-serif" font-size="25.6" fill="#000" stroke="#fff" stroke-width="0.40" paint-order="fill stroke">I</text>
<text transform="translate(364.42,25.60) scale(0.872,1.060)" font-family="Liberation Serif, serif" font-size="22.5" fill="#000">(</text><text transform="translate(374.05,26.60) scale(1.023,1.000)" font-family="Liberation Serif, serif" font-style="italic" font-size="25.4" fill="#000">k</text><path d="M396.5,18.35 h17.4 M396.5,22.55 h17.4" stroke="#000" stroke-width="1.25" fill="none"/><text transform="translate(421.76,26.60) scale(1.087,1.000)" font-family="Liberation Serif, serif" font-size="25.4" fill="#000">3</text><text transform="translate(438.00,25.60) scale(0.889,1.060)" font-family="Liberation Serif, serif" font-size="22.5" fill="#000">)</text>
<text transform="translate(336.22,70.60) scale(0.871,1.000)" font-family="Liberation Sans, sans-serif" font-size="25.6" fill="#000" stroke="#fff" stroke-width="0.52" paint-order="fill stroke">3</text><text transform="translate(350.90,70.60) scale(0.975,1.000)" font-family="Liberation Sans, sans-serif" font-size="25.6" fill="#000" stroke="#fff" stroke-width="0.46" paint-order="fill stroke">A</text><text transform="translate(367.59,70.60) scale(1.049,1.000)" font-family="Liberation Sans, sans-serif" font-size="25.6" fill="#000" stroke="#fff" stroke-width="0.43" paint-order="fill stroke">U</text>
<text transform="translate(394.62,69.30) scale(0.872,1.060)" font-family="Liberation Serif, serif" font-size="22.5" fill="#000">(</text><text transform="translate(404.25,70.30) scale(1.023,1.000)" font-family="Liberation Serif, serif" font-style="italic" font-size="25.4" fill="#000">k</text><path d="M426.7,62.05 h17.4 M426.7,66.25 h17.4" stroke="#000" stroke-width="1.25" fill="none"/><text transform="translate(451.96,70.30) scale(1.087,1.000)" font-family="Liberation Serif, serif" font-size="25.4" fill="#000">3</text><text transform="translate(468.20,69.30) scale(0.889,1.060)" font-family="Liberation Serif, serif" font-size="22.5" fill="#000">)</text>
<text transform="translate(335.62,113.90) scale(0.926,1.000)" font-family="Liberation Sans, sans-serif" font-size="25.6" fill="#000" stroke="#fff" stroke-width="0.49" paint-order="fill stroke">2</text><text transform="translate(350.90,113.90) scale(0.975,1.000)" font-family="Liberation Sans, sans-serif" font-size="25.6" fill="#000" stroke="#fff" stroke-width="0.46" paint-order="fill stroke">A</text><text transform="translate(367.59,113.90) scale(1.049,1.000)" font-family="Liberation Sans, sans-serif" font-size="25.6" fill="#000" stroke="#fff" stroke-width="0.43" paint-order="fill stroke">U</text>
<text transform="translate(394.62,112.60) scale(0.872,1.060)" font-family="Liberation Serif, serif" font-size="22.5" fill="#000">(</text><text transform="translate(404.25,113.60) scale(1.023,1.000)" font-family="Liberation Serif, serif" font-style="italic" font-size="25.4" fill="#000">k</text><path d="M426.7,105.35 h17.4 M426.7,109.55 h17.4" stroke="#000" stroke-width="1.25" fill="none"/><text transform="translate(451.96,113.60) scale(1.087,1.000)" font-family="Liberation Serif, serif" font-size="25.4" fill="#000">3</text><text transform="translate(468.20,112.60) scale(0.889,1.060)" font-family="Liberation Serif, serif" font-size="22.5" fill="#000">)</text>
<text transform="translate(335.62,157.00) scale(0.926,1.000)" font-family="Liberation Sans, sans-serif" font-size="25.6" fill="#000" stroke="#fff" stroke-width="0.49" paint-order="fill stroke">2</text><text transform="translate(351.12,157.00) scale(0.869,1.000)" font-family="Liberation Sans, sans-serif" font-size="25.6" fill="#000" stroke="#fff" stroke-width="0.52" paint-order="fill stroke">B</text><text transform="translate(367.66,157.00) scale(0.803,1.000)" font-family="Liberation Sans, sans-serif" font-size="25.6" fill="#000" stroke="#fff" stroke-width="0.56" paint-order="fill stroke">P</text>
<text transform="translate(606.30,352.90) scale(0.975,1.000)" font-family="Liberation Sans, sans-serif" font-size="25.6" fill="#000" stroke="#fff" stroke-width="0.46" paint-order="fill stroke">A</text><text transform="translate(622.99,352.90) scale(1.049,1.000)" font-family="Liberation Sans, sans-serif" font-size="25.6" fill="#000" stroke="#fff" stroke-width="0.43" paint-order="fill stroke">U</text>
<text transform="translate(650.02,351.60) scale(0.872,1.060)" font-family="Liberation Serif, serif" font-size="22.5" fill="#000">(</text><text transform="translate(659.65,352.60) scale(1.023,1.000)" font-family="Liberation Serif, serif" font-style="italic" font-size="25.4" fill="#000">k</text><path d="M682.1,344.35 h17.4 M682.1,348.55 h17.4" stroke="#000" stroke-width="1.25" fill="none"/><text transform="translate(707.36,352.60) scale(1.087,1.000)" font-family="Liberation Serif, serif" font-size="25.4" fill="#000">3</text><text transform="translate(723.60,351.60) scale(0.889,1.060)" font-family="Liberation Serif, serif" font-size="22.5" fill="#000">)</text>
<text transform="translate(605.82,394.90) scale(0.869,1.000)" font-family="Liberation Sans, sans-serif" font-size="25.6" fill="#000" stroke="#fff" stroke-width="0.52" paint-order="fill stroke">B</text><text transform="translate(622.36,394.90) scale(0.803,1.000)" font-family="Liberation Sans, sans-serif" font-size="25.6" fill="#000" stroke="#fff" stroke-width="0.56" paint-order="fill stroke">P</text>
<text transform="translate(698.50,449.80) scale(0.894,1.007)" font-family="Liberation Serif, serif" font-size="30" fill="#000">∂</text>
<text transform="translate(717.68,449.60) scale(1.027,1.034)" font-family="Liberation Serif, serif" font-style="italic" font-size="31" fill="#000">H</text>
<text transform="translate(149.70,576.30) scale(0.610,1.000)" font-family="Liberation Sans, sans-serif" font-size="19.6" fill="#000">1</text>
<text transform="translate(148.67,238.10) scale(0.914,1.000)" font-family="Liberation Sans, sans-serif" font-size="19.6" fill="#000" stroke="#fff" stroke-width="0.22" paint-order="fill stroke">3</text>
<text transform="translate(148.32,69.00) scale(0.980,1.000)" font-family="Liberation Sans, sans-serif" font-size="19.6" fill="#000" stroke="#fff" stroke-width="0.20" paint-order="fill stroke">4</text>
<text transform="translate(327.85,764.80) scale(0.610,1.000)" font-family="Liberation Sans, sans-serif" font-size="19.6" fill="#000">1</text>
<text transform="translate(492.24,764.80) scale(0.976,1.000)" font-family="Liberation Sans, sans-serif" font-size="19.6" fill="#000" stroke="#ccc" stroke-width="0.20" paint-order="fill stroke">2</text>
<text transform="translate(658.52,764.80) scale(0.914,1.000)" font-family="Liberation Sans, sans-serif" font-size="19.6" fill="#000" stroke="#ccc" stroke-width="0.22" paint-order="fill stroke">3</text>
</g>
</svg>
</body></html>
